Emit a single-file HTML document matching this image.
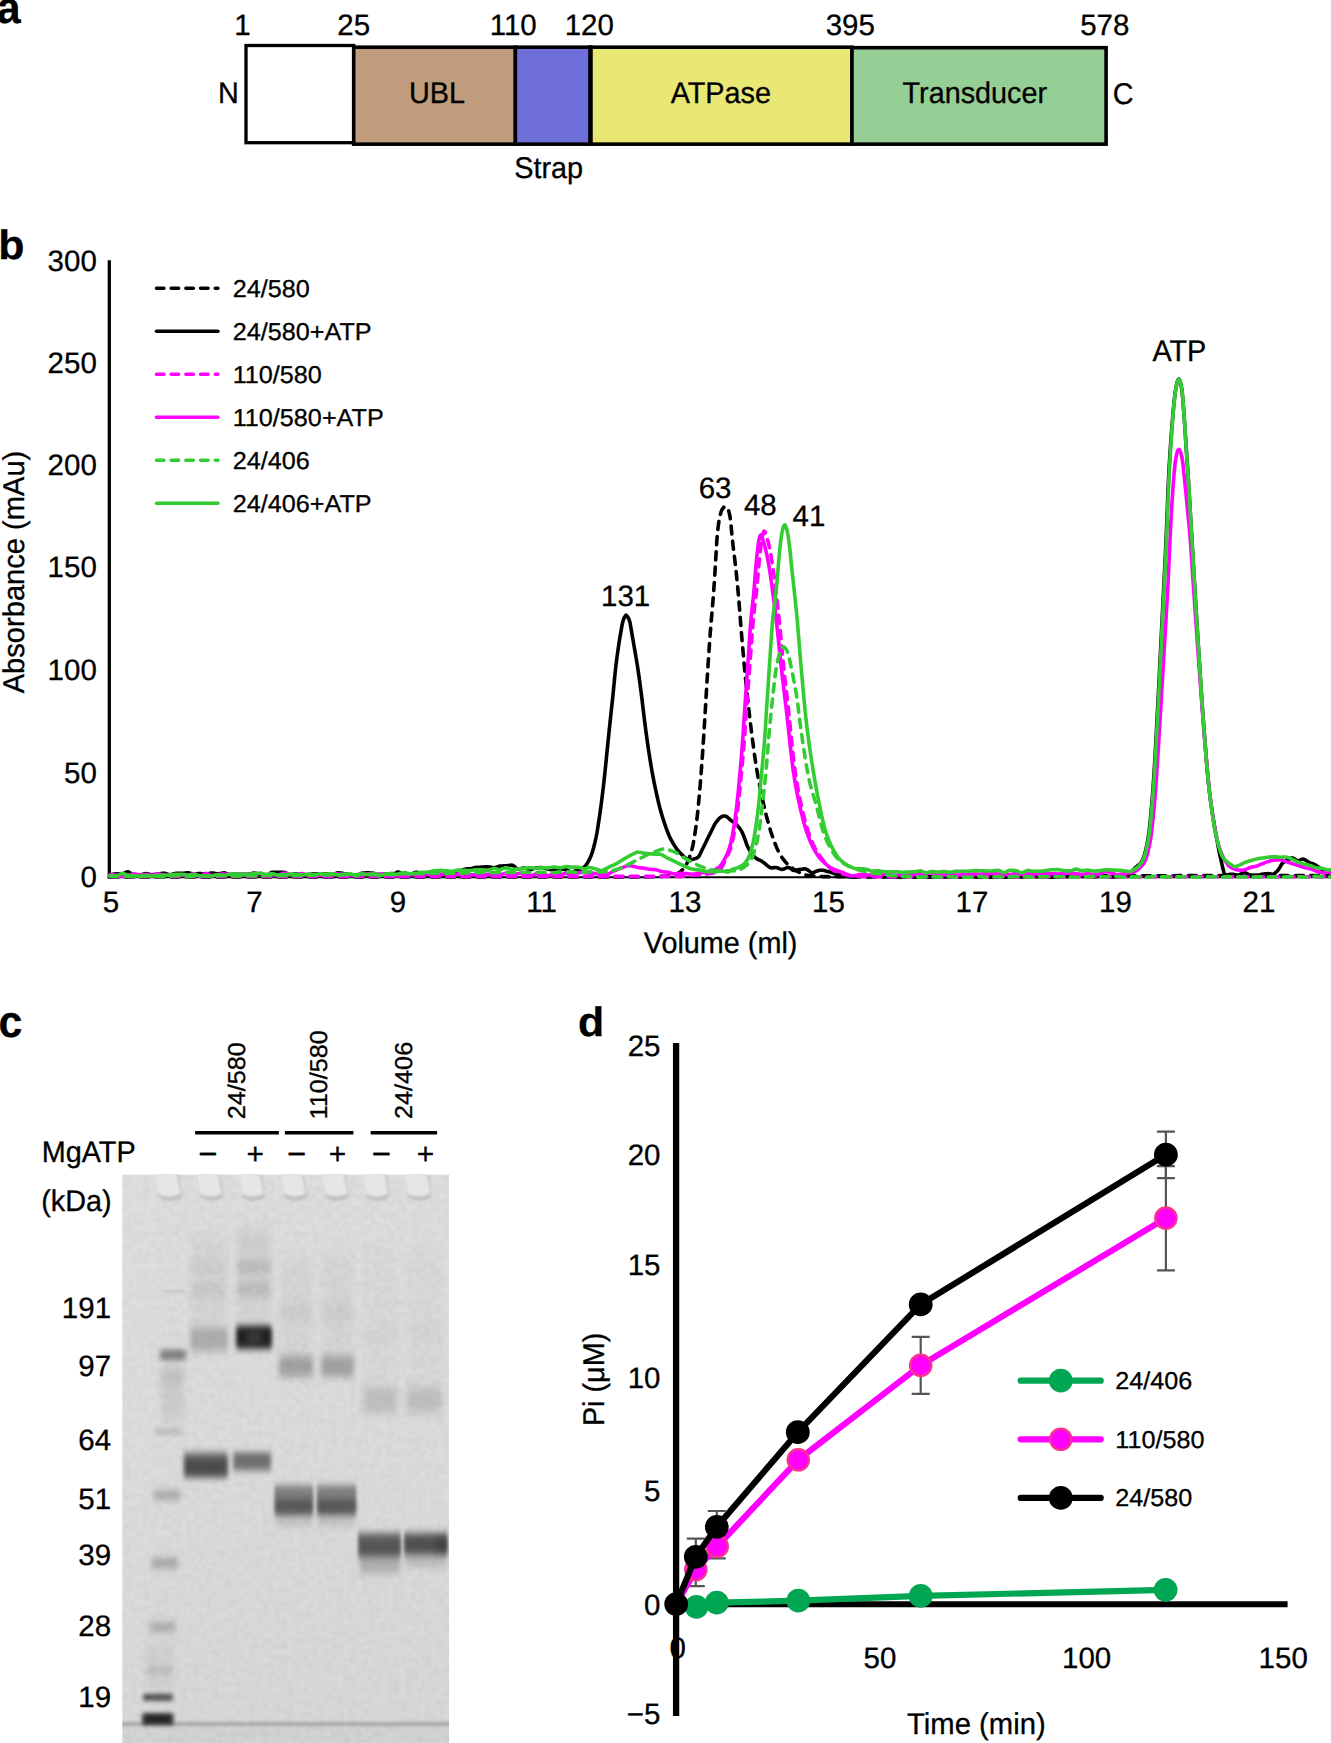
<!DOCTYPE html>
<html lang="en"><head><meta charset="utf-8"><title>Figure</title>
<style>html,body{margin:0;padding:0;background:#fff}svg{display:block}text{font-family:"Liberation Sans",Arial,Helvetica,sans-serif;stroke:#000;stroke-width:.3px;text-rendering:geometricPrecision}</style>
</head><body>
<svg width="1331" height="1743" viewBox="0 0 1331 1743" font-family='"Liberation Sans", Arial, Helvetica, sans-serif' fill="#000">
<rect width="1331" height="1743" fill="#fff"/>
<g id="panel-a">
<text transform="translate(-3.3 23.1) scale(1 1.04)" font-size="42.9" text-anchor="start" font-weight="bold">a</text>
<rect x="246" y="45.5" width="107.7" height="97.2" fill="#fff" stroke="#000" stroke-width="3.3"/>
<rect x="353.7" y="47.2" width="161.7" height="96.95" fill="#c09c7c" stroke="#000" stroke-width="3.6"/>
<rect x="515.4" y="47.2" width="75.0" height="96.95" fill="#6f6fd9" stroke="#000" stroke-width="3.6"/>
<rect x="590.4" y="47.2" width="261.6" height="96.95" fill="#e9e874" stroke="#000" stroke-width="3.6"/>
<rect x="852.0" y="47.7" width="254.1" height="96.45" fill="#95cf95" stroke="#000" stroke-width="3.6"/>
<line x1="590.6" y1="45.4" x2="590.6" y2="145.9" stroke="#000" stroke-width="4.2"/>
<text transform="translate(242.5 35.2) scale(1 1.002)" font-size="29.5" text-anchor="middle">1</text>
<text transform="translate(353.7 35.2) scale(1 1.002)" font-size="29.5" text-anchor="middle">25</text>
<text transform="translate(513.2 35.2) scale(1 1.002)" font-size="29.5" text-anchor="middle">110</text>
<text transform="translate(589.3 35.2) scale(1 1.002)" font-size="29.5" text-anchor="middle">120</text>
<text transform="translate(850.3 35.2) scale(1 1.002)" font-size="29.5" text-anchor="middle">395</text>
<text transform="translate(1104.8 35.2) scale(1 1.002)" font-size="29.5" text-anchor="middle">578</text>
<text transform="translate(218 103.1) scale(1 1.04)" font-size="28.8" text-anchor="start">N</text>
<text transform="translate(1112.8 104.0) scale(1 1.04)" font-size="28.8" text-anchor="start">C</text>
<text transform="translate(437 103.1) scale(1 1.04)" font-size="28.8" text-anchor="middle">UBL</text>
<text transform="translate(720.8 103.1) scale(1 1.04)" font-size="28.8" text-anchor="middle">ATPase</text>
<text transform="translate(974.8 103.1) scale(1 1.04)" font-size="28.8" text-anchor="middle">Transducer</text>
<text transform="translate(548.7 178.0) scale(1 1.04)" font-size="28.8" text-anchor="middle">Strap</text>
</g>
<g id="panel-b">
<text transform="translate(-1.8 258.85) scale(1 0.96)" font-size="42.9" text-anchor="start" font-weight="bold">b</text>
<line x1="109.3" y1="260.3" x2="109.3" y2="878.4" stroke="#000" stroke-width="3.3"/>
<line x1="107.7" y1="877.2" x2="1331" y2="877.2" stroke="#000" stroke-width="2"/>
<g fill="none" stroke-linecap="round" stroke-linejoin="round">
<path d="M110.0,876.9 111.0,876.9 112.0,876.9 113.0,876.9 114.0,876.9 115.0,876.9 116.0,876.9 117.0,876.9 118.0,876.9 119.0,876.9 120.0,876.9 121.0,876.9 122.0,876.9 123.0,876.9 124.0,876.9 125.0,876.9 126.0,876.9 127.0,876.9 128.0,876.9 129.0,876.9 130.0,876.9 131.0,876.9 132.0,876.9 133.0,876.9 134.0,876.9 135.0,876.9 136.0,876.9 137.0,876.9 138.0,876.9 139.0,876.9 140.0,876.9 141.0,876.9 142.0,876.9 143.0,876.9 144.0,876.9 145.0,876.9 146.0,876.9 147.0,876.9 148.0,876.9 149.0,876.9 150.0,876.9 151.0,876.9 152.0,876.9 153.0,876.9 154.0,876.9 155.0,876.9 156.0,876.9 157.0,876.9 158.0,876.9 159.0,876.9 160.0,876.9 161.0,876.9 162.0,876.9 163.0,876.9 164.0,876.9 165.0,876.9 166.0,876.9 167.0,876.9 168.0,876.9 169.0,876.9 170.0,876.9 171.0,876.9 172.0,876.9 173.0,876.9 174.0,876.9 175.0,876.9 176.0,876.9 177.0,876.9 178.0,876.9 179.0,876.9 180.0,876.9 181.0,876.9 182.0,876.9 183.0,876.9 184.0,876.9 185.0,876.9 186.0,876.9 187.0,876.9 188.0,876.9 189.0,876.9 190.0,876.9 191.0,876.9 192.0,876.9 193.0,876.9 194.0,876.9 195.0,876.9 196.0,876.9 197.0,876.9 198.0,876.9 199.0,876.9 200.0,876.9 201.0,876.9 202.0,876.9 203.0,876.9 204.0,876.9 205.0,876.9 206.0,876.9 207.0,876.9 208.0,876.9 209.0,876.9 210.0,876.9 211.0,876.9 212.0,876.9 213.0,876.9 214.0,876.9 215.0,876.9 216.0,876.9 217.0,876.9 218.0,876.9 219.0,876.9 220.0,876.9 221.0,876.9 222.0,876.9 223.0,876.9 224.0,876.9 225.0,876.9 226.0,876.9 227.0,876.9 228.0,876.9 229.0,876.9 230.0,876.9 231.0,876.9 232.0,876.9 233.0,876.9 234.0,876.9 235.0,876.9 236.0,876.9 237.0,876.9 238.0,876.9 239.0,876.9 240.0,876.9 241.0,876.9 242.0,876.9 243.0,876.9 244.0,876.9 245.0,876.9 246.0,876.9 247.0,876.9 248.0,876.9 249.0,876.9 250.0,876.9 251.0,876.9 252.0,876.9 253.0,876.9 254.0,876.9 255.0,876.9 256.0,876.9 257.0,876.9 258.0,876.9 259.0,876.9 260.0,876.9 261.0,876.9 262.0,876.9 263.0,876.9 264.0,876.9 265.0,876.9 266.0,876.9 267.0,876.9 268.0,876.9 269.0,876.9 270.0,876.9 271.0,876.9 272.0,876.9 273.0,876.9 274.0,876.9 275.0,876.9 276.0,876.9 277.0,876.9 278.0,876.9 279.0,876.9 280.0,876.9 281.0,876.9 282.0,876.9 283.0,876.9 284.0,876.9 285.0,876.9 286.0,876.9 287.0,876.9 288.0,876.9 289.0,876.9 290.0,876.9 291.0,876.9 292.0,876.9 293.0,876.9 294.0,876.9 295.0,876.9 296.0,876.9 297.0,876.9 298.0,876.9 299.0,876.9 300.0,876.9 301.0,876.9 302.0,876.9 303.0,876.9 304.0,876.9 305.0,876.9 306.0,876.9 307.0,876.9 308.0,876.9 309.0,876.9 310.0,876.9 311.0,876.9 312.0,876.9 313.0,876.9 314.0,876.9 315.0,876.9 316.0,876.9 317.0,876.9 318.0,876.9 319.0,876.9 320.0,876.9 321.0,876.9 322.0,876.9 323.0,876.9 324.0,876.9 325.0,876.9 326.0,876.9 327.0,876.9 328.0,876.9 329.0,876.9 330.0,876.9 331.0,876.9 332.0,876.9 333.0,876.9 334.0,876.9 335.0,876.9 336.0,876.9 337.0,876.9 338.0,876.9 339.0,876.9 340.0,876.9 341.0,876.9 342.0,876.9 343.0,876.9 344.0,876.9 345.0,876.9 346.0,876.9 347.0,876.9 348.0,876.9 349.0,876.9 350.0,876.9 351.0,876.9 352.0,876.9 353.0,876.9 354.0,876.9 355.0,876.9 356.0,876.9 357.0,876.9 358.0,876.9 359.0,876.9 360.0,876.9 361.0,876.9 362.0,876.9 363.0,876.9 364.0,876.9 365.0,876.9 366.0,876.9 367.0,876.9 368.0,876.9 369.0,876.9 370.0,876.9 371.0,876.9 372.0,876.9 373.0,876.9 374.0,876.9 375.0,876.9 376.0,876.9 377.0,876.9 378.0,876.9 379.0,876.9 380.0,876.9 381.0,876.9 382.0,876.9 383.0,876.9 384.0,876.9 385.0,876.9 386.0,876.9 387.0,876.9 388.0,876.9 389.0,876.9 390.0,876.9 391.0,876.9 392.0,876.9 393.0,876.9 394.0,876.9 395.0,876.9 396.0,876.9 397.0,876.9 398.0,876.9 399.0,876.9 400.0,876.9 401.0,876.9 402.0,876.9 403.0,876.9 404.0,876.9 405.0,876.9 406.0,876.9 407.0,876.9 408.0,876.9 409.0,876.9 410.0,876.9 411.0,876.9 412.0,876.9 413.0,876.9 414.0,876.9 415.0,876.9 416.0,876.9 417.0,876.9 418.0,876.9 419.0,876.9 420.0,876.9 421.0,876.9 422.0,876.9 423.0,876.9 424.0,876.9 425.0,876.9 426.0,876.9 427.0,876.9 428.0,876.9 429.0,876.9 430.0,876.9 431.0,876.9 432.0,876.9 433.0,876.9 434.0,876.9 435.0,876.9 436.0,876.9 437.0,876.9 438.0,876.9 439.0,876.9 440.0,876.9 441.0,876.9 442.0,876.9 443.0,876.9 444.0,876.9 445.0,876.9 446.0,876.9 447.0,876.9 448.0,876.9 449.0,876.9 450.0,876.9 451.0,876.9 452.0,876.9 453.0,876.9 454.0,876.9 455.0,876.9 456.0,876.9 457.0,876.9 458.0,876.9 459.0,876.9 460.0,876.9 461.0,876.9 462.0,876.9 463.0,876.9 464.0,876.9 465.0,876.9 466.0,876.9 467.0,876.9 468.0,876.9 469.0,876.9 470.0,876.9 471.0,876.9 472.0,876.9 473.0,876.9 474.0,876.9 475.0,876.9 476.0,876.9 477.0,876.9 478.0,876.9 479.0,876.9 480.0,876.9 481.0,876.9 482.0,876.9 483.0,876.9 484.0,876.9 485.0,876.9 486.0,876.9 487.0,876.9 488.0,876.9 489.0,876.9 490.0,876.9 491.0,876.9 492.0,876.9 493.0,876.9 494.0,876.9 495.0,876.9 496.0,876.9 497.0,876.9 498.0,876.9 499.0,876.9 500.0,876.9 501.0,876.9 502.0,876.9 503.0,876.9 504.0,876.9 505.0,876.9 506.0,876.9 507.0,876.9 508.0,876.9 509.0,876.9 510.0,876.9 511.0,876.9 512.0,876.9 513.0,876.9 514.0,876.9 515.0,876.9 516.0,876.9 517.0,876.9 518.0,876.9 519.0,876.9 520.0,876.9 521.0,876.9 522.0,876.9 523.0,876.9 524.0,876.9 525.0,876.9 526.0,876.9 527.0,876.9 528.0,876.9 529.0,876.9 530.0,876.9 531.0,876.9 532.0,876.9 533.0,876.9 534.0,876.9 535.0,876.9 536.0,876.9 537.0,876.9 538.0,876.9 539.0,876.9 540.0,876.9 541.0,876.9 542.0,876.9 543.0,876.9 544.0,876.9 545.0,876.9 546.0,876.9 547.0,876.9 548.0,876.9 549.0,876.9 550.0,876.9 551.0,876.9 552.0,876.9 553.0,876.9 554.0,876.9 555.0,876.9 556.0,876.9 557.0,876.9 558.0,876.9 559.0,876.9 560.0,876.9 561.0,876.9 562.0,876.9 563.0,876.9 564.0,876.9 565.0,876.9 566.0,876.9 567.0,876.9 568.0,876.9 569.0,876.9 570.0,876.9 571.0,876.9 572.0,876.9 573.0,876.9 574.0,876.9 575.0,876.9 576.0,876.9 577.0,876.9 578.0,876.9 579.0,876.9 580.0,876.9 581.0,876.9 582.0,876.9 583.0,876.9 584.0,876.9 585.0,876.9 586.0,876.9 587.0,876.9 588.0,876.9 589.0,876.9 590.0,876.9 591.0,876.9 592.0,876.9 593.0,876.9 594.0,876.9 595.0,876.9 596.0,876.9 597.0,876.9 598.0,876.9 599.0,876.9 600.0,876.9 601.0,876.9 602.0,876.9 603.0,876.9 604.0,876.9 605.0,876.9 606.0,876.9 607.0,876.9 608.0,876.9 609.0,876.9 610.0,876.9 611.0,876.9 612.0,876.9 613.0,876.9 614.0,876.9 615.0,876.9 616.0,876.9 617.0,876.9 618.0,876.9 619.0,876.9 620.0,876.9 621.0,876.9 622.0,876.9 623.0,876.9 624.0,876.9 625.0,876.9 626.0,876.9 627.0,876.9 628.0,876.9 629.0,876.9 630.0,876.9 631.0,876.9 632.0,876.9 633.0,876.9 634.0,876.9 635.0,876.9 636.0,876.9 637.0,876.9 638.0,876.9 639.0,876.9 640.0,876.9 641.0,876.9 642.0,876.9 643.0,876.9 644.0,876.9 645.0,876.9 646.0,876.9 647.0,876.8 648.0,876.8 649.0,876.8 650.0,876.8 651.0,876.8 652.0,876.7 653.0,876.7 654.0,876.7 655.0,876.6 656.0,876.6 657.0,876.6 658.0,876.5 659.0,876.5 660.0,876.4 661.0,876.4 662.0,876.4 663.0,876.3 664.0,876.2 665.0,876.2 666.0,876.1 667.0,876.1 668.0,876.0 669.0,875.9 670.0,875.8 671.0,875.6 672.0,875.3 673.0,875.1 674.0,874.7 675.0,874.4 676.0,874.0 677.0,873.5 678.0,873.0 679.0,872.5 680.0,872.0 681.0,871.3 682.0,870.4 683.0,869.3 684.0,868.0 685.0,866.6 686.0,865.0 687.0,863.3 688.0,861.2 689.0,858.7 690.0,855.8 691.0,852.6 692.0,849.0 693.0,844.8 694.0,839.6 695.0,833.3 696.0,826.3 697.0,818.6 698.0,809.2 699.0,798.6 700.0,787.3 701.0,774.9 702.0,761.4 703.0,747.1 704.0,732.0 705.0,715.3 706.0,698.1 707.0,681.7 708.0,665.9 709.0,650.6 710.0,636.3 711.0,623.6 712.0,612.1 713.0,600.2 714.0,586.7 715.0,571.7 716.0,554.5 717.0,538.2 718.0,528.0 719.0,520.6 720.0,515.8 721.0,512.1 722.0,509.6 723.0,508.2 724.0,507.1 725.0,506.6 726.0,506.9 727.0,507.8 728.0,509.1 729.0,511.8 730.0,516.6 731.0,524.4 732.0,536.0 733.0,545.1 734.0,553.3 735.0,561.5 736.0,570.5 737.0,580.2 738.0,590.6 739.0,602.0 740.0,614.7 741.0,627.6 742.0,639.6 743.0,651.2 744.0,662.4 745.0,673.3 746.0,683.6 747.0,693.2 748.0,702.4 749.0,711.2 750.0,719.7 751.0,727.9 752.0,735.9 753.0,743.6 754.0,751.1 755.0,758.2 756.0,764.8 757.0,770.9 758.0,776.6 759.0,781.9 760.0,787.1 761.0,792.1 762.0,796.9 763.0,801.6 764.0,806.1 765.0,810.4 766.0,814.4 767.0,818.2 768.0,821.9 769.0,825.5 770.0,828.9 771.0,832.2 772.0,835.2 773.0,838.1 774.0,840.8 775.0,843.4 776.0,845.9 777.0,848.3 778.0,850.5 779.0,852.5 780.0,854.4 781.0,856.0 782.0,857.5 783.0,858.9 784.0,860.2 785.0,861.4 786.0,862.6 787.0,863.6 788.0,864.6 789.0,865.5 790.0,866.4 791.0,867.2 792.0,867.9 793.0,868.7 794.0,869.3 795.0,870.0 796.0,870.6 797.0,871.2 798.0,871.7 799.0,872.2 800.0,872.7 801.0,873.1 802.0,873.6 803.0,874.0 804.0,874.4 805.0,874.7 806.0,875.0 807.0,875.2 808.0,875.4 809.0,875.6 810.0,875.7 811.0,875.8 812.0,875.9 813.0,876.1 814.0,876.1 815.0,876.2 816.0,876.3 817.0,876.4 818.0,876.4 819.0,876.5 820.0,876.5 821.0,876.5 822.0,876.5 823.0,876.6 824.0,876.6 825.0,876.6 826.0,876.6 827.0,876.6 828.0,876.6 829.0,876.7 830.0,876.7 831.0,876.7 832.0,876.7 833.0,876.7 834.0,876.7 835.0,876.7 836.0,876.8 837.0,876.8 838.0,876.8 839.0,876.8 840.0,876.8 841.0,876.8 842.0,876.8 843.0,876.8 844.0,876.8 845.0,876.8 846.0,876.9 847.0,876.9 848.0,876.9 849.0,876.9 850.0,876.9 851.0,876.9 852.0,876.9 853.0,876.9 854.0,876.9 855.0,876.9 856.0,876.9 857.0,876.9 858.0,876.9 859.0,876.9 860.0,876.9 861.0,876.9 862.0,876.9 863.0,876.9 864.0,876.9 865.0,876.9 866.0,876.9 867.0,876.9 868.0,876.9 869.0,876.9 870.0,876.9 871.0,876.9 872.0,876.9 873.0,876.9 874.0,876.9 875.0,876.9 876.0,876.9 877.0,876.9 878.0,876.9 879.0,876.9 880.0,876.9 881.0,876.9 882.0,876.9 883.0,876.9 884.0,876.9 885.0,876.9 886.0,876.9 887.0,876.9 888.0,876.9 889.0,876.9 890.0,876.9 891.0,876.9 892.0,876.9 893.0,876.9 894.0,876.9 895.0,876.9 896.0,876.9 897.0,876.9 898.0,876.9 899.0,876.9 900.0,876.9 901.0,876.9 902.0,876.9 903.0,876.9 904.0,876.9 905.0,876.9 906.0,876.9 907.0,876.9 908.0,876.9 909.0,876.9 910.0,876.9 911.0,876.9 912.0,876.9 913.0,876.9 914.0,876.9 915.0,876.9 916.0,876.9 917.0,876.9 918.0,876.9 919.0,876.9 920.0,876.9 921.0,876.9 922.0,876.9 923.0,876.9 924.0,876.9 925.0,876.9 926.0,876.9 927.0,876.9 928.0,876.9 929.0,876.9 930.0,876.9 931.0,876.9 932.0,876.9 933.0,876.9 934.0,876.9 935.0,876.9 936.0,876.9 937.0,876.9 938.0,876.9 939.0,876.9 940.0,876.9 941.0,876.9 942.0,876.9 943.0,876.9 944.0,876.9 945.0,876.9 946.0,876.9 947.0,876.9 948.0,876.9 949.0,876.9 950.0,876.9 951.0,876.9 952.0,876.9 953.0,876.9 954.0,876.9 955.0,876.9 956.0,876.9 957.0,876.9 958.0,876.9 959.0,876.9 960.0,876.9 961.0,876.9 962.0,876.9 963.0,876.9 964.0,876.9 965.0,876.9 966.0,876.9 967.0,876.9 968.0,876.9 969.0,876.9 970.0,876.9 971.0,876.9 972.0,876.9 973.0,876.9 974.0,876.9 975.0,876.9 976.0,876.9 977.0,876.9 978.0,876.9 979.0,876.9 980.0,876.9 981.0,876.9 982.0,876.9 983.0,876.9 984.0,876.9 985.0,876.9 986.0,876.9 987.0,876.9 988.0,876.9 989.0,876.9 990.0,876.9 991.0,876.9 992.0,876.9 993.0,876.9 994.0,876.9 995.0,876.9 996.0,876.9 997.0,876.9 998.0,876.9 999.0,876.9 1000.0,876.9 1001.0,876.9 1002.0,876.9 1003.0,876.9 1004.0,876.9 1005.0,876.9 1006.0,876.9 1007.0,876.9 1008.0,876.9 1009.0,876.9 1010.0,876.9 1011.0,876.9 1012.0,876.9 1013.0,876.9 1014.0,876.9 1015.0,876.9 1016.0,876.9 1017.0,876.9 1018.0,876.9 1019.0,876.9 1020.0,876.9 1021.0,876.9 1022.0,876.9 1023.0,876.9 1024.0,876.8 1025.0,876.8 1026.0,876.8 1027.0,876.8 1028.0,876.8 1029.0,876.8 1030.0,876.8 1031.0,876.8 1032.0,876.8 1033.0,876.8 1034.0,876.8 1035.0,876.8 1036.0,876.8 1037.0,876.8 1038.0,876.8 1039.0,876.8 1040.0,876.8 1041.0,876.8 1042.0,876.8 1043.0,876.7 1044.0,876.7 1045.0,876.7 1046.0,876.7 1047.0,876.7 1048.0,876.7 1049.0,876.7 1050.0,876.7 1051.0,876.7 1052.0,876.7 1053.0,876.7 1054.0,876.7 1055.0,876.7 1056.0,876.7 1057.0,876.6 1058.0,876.6 1059.0,876.6 1060.0,876.6 1061.0,876.6 1062.0,876.6 1063.0,876.6 1064.0,876.6 1065.0,876.6 1066.0,876.6 1067.0,876.6 1068.0,876.6 1069.0,876.5 1070.0,876.5 1071.0,876.5 1072.0,876.5 1073.0,876.5 1074.0,876.5 1075.0,876.5 1076.0,876.5 1077.0,876.5 1078.0,876.5 1079.0,876.5 1080.0,876.4 1081.0,876.4 1082.0,876.4 1083.0,876.4 1084.0,876.4 1085.0,876.4 1086.0,876.4 1087.0,876.4 1088.0,876.4 1089.0,876.4 1090.0,876.3 1091.0,876.3 1092.0,876.3 1093.0,876.3 1094.0,876.3 1095.0,876.3 1096.0,876.3 1097.0,876.3 1098.0,876.3 1099.0,876.3 1100.0,876.2 1101.0,876.2 1102.0,876.2 1103.0,876.2 1104.0,876.2 1105.0,876.2 1106.0,876.2 1107.0,876.2 1108.0,876.2 1109.0,876.2 1110.0,876.2 1111.0,876.1 1112.0,876.1 1113.0,876.1 1114.0,876.1 1115.0,876.1 1116.0,876.1 1117.0,876.1 1118.0,876.1 1119.0,876.1 1120.0,876.1 1121.0,876.0 1122.0,876.0 1123.0,876.0 1124.0,876.0 1125.0,876.0 1126.0,876.0 1127.0,876.0 1128.0,876.0 1129.0,876.0 1130.0,876.0 1131.0,876.0 1132.0,875.9 1133.0,875.9 1134.0,875.9 1135.0,875.9 1136.0,875.9 1137.0,875.9 1138.0,875.9 1139.0,875.9 1140.0,875.9 1141.0,875.9 1142.0,875.9 1143.0,875.9 1144.0,875.8 1145.0,875.8 1146.0,875.8 1147.0,875.8 1148.0,875.8 1149.0,875.8 1150.0,875.8 1151.0,875.8 1152.0,875.8 1153.0,875.8 1154.0,875.8 1155.0,875.8 1156.0,875.8 1157.0,875.8 1158.0,875.7 1159.0,875.7 1160.0,875.7 1161.0,875.7 1162.0,875.7 1163.0,875.7 1164.0,875.7 1165.0,875.7 1166.0,875.7 1167.0,875.7 1168.0,875.7 1169.0,875.7 1170.0,875.7 1171.0,875.7 1172.0,875.7 1173.0,875.7 1174.0,875.7 1175.0,875.7 1176.0,875.7 1177.0,875.6 1178.0,875.6 1179.0,875.6 1180.0,875.6 1181.0,875.6 1182.0,875.6 1183.0,875.6 1184.0,875.6 1185.0,875.6 1186.0,875.6 1187.0,875.6 1188.0,875.6 1189.0,875.6 1190.0,875.6 1191.0,875.6 1192.0,875.6 1193.0,875.6 1194.0,875.6 1195.0,875.6 1196.0,875.6 1197.0,875.6 1198.0,875.6 1199.0,875.6 1200.0,875.6 1201.0,875.6 1202.0,875.6 1203.0,875.6 1204.0,875.6 1205.0,875.6 1206.0,875.6 1207.0,875.6 1208.0,875.6 1209.0,875.6 1210.0,875.6 1211.0,875.6 1212.0,875.6 1213.0,875.6 1214.0,875.6 1215.0,875.6 1216.0,875.6 1217.0,875.6 1218.0,875.6 1219.0,875.6 1220.0,875.6 1221.0,875.6 1222.0,875.6 1223.0,875.6 1224.0,875.6 1225.0,875.6 1226.0,875.6 1227.0,875.6 1228.0,875.6 1229.0,875.6 1230.0,875.6 1231.0,875.6 1232.0,875.6 1233.0,875.6 1234.0,875.6 1235.0,875.6 1236.0,875.6 1237.0,875.6 1238.0,875.6 1239.0,875.6 1240.0,875.6 1241.0,875.6 1242.0,875.6 1243.0,875.6 1244.0,875.6 1245.0,875.6 1246.0,875.6 1247.0,875.6 1248.0,875.6 1249.0,875.6 1250.0,875.6 1251.0,875.6 1252.0,875.6 1253.0,875.6 1254.0,875.6 1255.0,875.6 1256.0,875.6 1257.0,875.6 1258.0,875.6 1259.0,875.6 1260.0,875.6 1261.0,875.6 1262.0,875.6 1263.0,875.6 1264.0,875.6 1265.0,875.6 1266.0,875.6 1267.0,875.6 1268.0,875.6 1269.0,875.6 1270.0,875.6 1271.0,875.6 1272.0,875.6 1273.0,875.6 1274.0,875.6 1275.0,875.6 1276.0,875.6 1277.0,875.6 1278.0,875.6 1279.0,875.6 1280.0,875.6 1281.0,875.6 1282.0,875.6 1283.0,875.6 1284.0,875.6 1285.0,875.6 1286.0,875.6 1287.0,875.6 1288.0,875.6 1289.0,875.6 1290.0,875.6 1291.0,875.6 1292.0,875.6 1293.0,875.6 1294.0,875.6 1295.0,875.6 1296.0,875.6 1297.0,875.6 1298.0,875.6 1299.0,875.6 1300.0,875.6 1301.0,875.6 1302.0,875.6 1303.0,875.6 1304.0,875.6 1305.0,875.6 1306.0,875.6 1307.0,875.6 1308.0,875.6 1309.0,875.6 1310.0,875.6 1311.0,875.6 1312.0,875.6 1313.0,875.6 1314.0,875.6 1315.0,875.6 1316.0,875.6 1317.0,875.6 1318.0,875.6 1319.0,875.6 1320.0,875.6 1321.0,875.6 1322.0,875.6 1323.0,875.6 1324.0,875.6 1325.0,875.6 1326.0,875.6 1327.0,875.6 1328.0,875.6 1329.0,875.6 1330.0,875.6 1331.0,875.6 1332.0,875.6" stroke="#000" stroke-dasharray="8.1 7.2" stroke-width="3.6"/>
<path d="M110.0,874.8 111.0,874.6 112.0,874.4 113.0,874.2 114.0,874.1 115.0,874.0 116.0,873.9 117.0,873.9 118.0,873.9 119.0,873.9 120.0,873.9 121.0,873.9 122.0,873.9 123.0,873.8 124.0,873.4 125.0,872.9 126.0,872.3 127.0,872.0 128.0,871.8 129.0,872.1 130.0,872.8 131.0,873.8 132.0,874.8 133.0,875.6 134.0,875.9 135.0,875.9 136.0,875.8 137.0,875.6 138.0,875.5 139.0,875.3 140.0,875.2 141.0,874.9 142.0,874.6 143.0,874.3 144.0,874.0 145.0,873.7 146.0,873.6 147.0,873.7 148.0,873.9 149.0,874.1 150.0,874.4 151.0,874.6 152.0,874.7 153.0,874.6 154.0,874.6 155.0,874.5 156.0,874.3 157.0,874.2 158.0,874.1 159.0,874.0 160.0,873.8 161.0,873.6 162.0,873.4 163.0,873.3 164.0,873.2 165.0,873.3 166.0,873.6 167.0,874.0 168.0,874.3 169.0,874.6 170.0,874.7 171.0,874.6 172.0,874.4 173.0,874.0 174.0,873.7 175.0,873.5 176.0,873.4 177.0,873.4 178.0,873.4 179.0,873.3 180.0,873.3 181.0,873.3 182.0,873.3 183.0,873.3 184.0,873.2 185.0,873.1 186.0,873.0 187.0,872.9 188.0,872.8 189.0,872.9 190.0,873.1 191.0,873.4 192.0,873.7 193.0,874.0 194.0,874.1 195.0,874.0 196.0,873.9 197.0,873.8 198.0,873.6 199.0,873.5 200.0,873.5 201.0,873.5 202.0,873.7 203.0,873.8 204.0,874.0 205.0,874.1 206.0,874.2 207.0,874.1 208.0,873.9 209.0,873.6 210.0,873.3 211.0,873.1 212.0,873.1 213.0,873.1 214.0,873.3 215.0,873.4 216.0,873.6 217.0,873.8 218.0,873.8 219.0,873.8 220.0,873.6 221.0,873.4 222.0,873.1 223.0,873.0 224.0,872.9 225.0,873.0 226.0,873.4 227.0,873.8 228.0,874.2 229.0,874.6 230.0,874.7 231.0,874.7 232.0,874.6 233.0,874.4 234.0,874.3 235.0,874.1 236.0,874.1 237.0,874.1 238.0,874.2 239.0,874.2 240.0,874.2 241.0,874.3 242.0,874.3 243.0,874.3 244.0,874.4 245.0,874.4 246.0,874.4 247.0,874.4 248.0,874.4 249.0,874.3 250.0,874.0 251.0,873.7 252.0,873.4 253.0,873.1 254.0,873.0 255.0,873.1 256.0,873.3 257.0,873.7 258.0,874.1 259.0,874.5 260.0,874.8 261.0,875.0 262.0,875.3 263.0,875.6 264.0,875.8 265.0,876.0 266.0,876.0 267.0,875.7 268.0,875.1 269.0,874.2 270.0,873.3 271.0,872.6 272.0,872.3 273.0,872.2 274.0,872.2 275.0,872.2 276.0,872.2 277.0,872.2 278.0,872.2 279.0,872.2 280.0,872.2 281.0,872.2 282.0,872.2 283.0,872.3 284.0,872.3 285.0,872.6 286.0,873.0 287.0,873.6 288.0,874.1 289.0,874.5 290.0,874.7 291.0,874.6 292.0,874.5 293.0,874.3 294.0,874.1 295.0,874.0 296.0,873.9 297.0,874.0 298.0,874.2 299.0,874.4 300.0,874.6 301.0,874.8 302.0,874.9 303.0,874.9 304.0,874.8 305.0,874.8 306.0,874.7 307.0,874.6 308.0,874.5 309.0,874.5 310.0,874.3 311.0,874.2 312.0,874.1 313.0,874.1 314.0,874.0 315.0,874.1 316.0,874.1 317.0,874.1 318.0,874.1 319.0,874.1 320.0,874.2 321.0,874.1 322.0,874.0 323.0,873.9 324.0,873.8 325.0,873.8 326.0,873.7 327.0,873.8 328.0,874.0 329.0,874.3 330.0,874.5 331.0,874.7 332.0,874.8 333.0,874.7 334.0,874.3 335.0,873.8 336.0,873.4 337.0,873.0 338.0,872.8 339.0,872.9 340.0,873.0 341.0,873.1 342.0,873.3 343.0,873.4 344.0,873.6 345.0,873.7 346.0,873.8 347.0,873.9 348.0,874.0 349.0,874.1 350.0,874.2 351.0,874.5 352.0,874.8 353.0,875.1 354.0,875.5 355.0,875.7 356.0,875.8 357.0,875.6 358.0,875.2 359.0,874.6 360.0,874.0 361.0,873.5 362.0,873.2 363.0,873.1 364.0,873.1 365.0,873.0 366.0,872.9 367.0,872.9 368.0,872.9 369.0,872.9 370.0,873.0 371.0,873.0 372.0,873.1 373.0,873.3 374.0,873.4 375.0,873.6 376.0,873.9 377.0,874.2 378.0,874.6 379.0,874.8 380.0,874.9 381.0,874.8 382.0,874.6 383.0,874.3 384.0,874.0 385.0,873.7 386.0,873.7 387.0,873.8 388.0,874.0 389.0,874.4 390.0,874.8 391.0,875.1 392.0,875.2 393.0,874.9 394.0,874.3 395.0,873.6 396.0,872.8 397.0,872.2 398.0,871.9 399.0,872.2 400.0,872.7 401.0,873.4 402.0,874.1 403.0,874.7 404.0,874.9 405.0,874.9 406.0,874.9 407.0,874.9 408.0,874.8 409.0,874.8 410.0,874.8 411.0,874.5 412.0,874.1 413.0,873.5 414.0,872.9 415.0,872.4 416.0,872.2 417.0,872.3 418.0,872.5 419.0,872.8 420.0,873.2 421.0,873.5 422.0,873.7 423.0,873.9 424.0,874.2 425.0,874.4 426.0,874.6 427.0,874.7 428.0,874.7 429.0,874.6 430.0,874.4 431.0,874.1 432.0,873.8 433.0,873.6 434.0,873.4 435.0,873.5 436.0,873.5 437.0,873.7 438.0,873.9 439.0,874.0 440.0,874.2 441.0,874.4 442.0,874.6 443.0,874.8 444.0,875.0 445.0,875.1 446.0,875.1 447.0,874.8 448.0,874.4 449.0,873.9 450.0,873.3 451.0,872.8 452.0,872.4 453.0,872.2 454.0,872.0 455.0,871.7 456.0,871.5 457.0,871.3 458.0,871.1 459.0,870.9 460.0,870.6 461.0,870.4 462.0,870.1 463.0,869.8 464.0,869.5 465.0,869.2 466.0,869.0 467.0,868.8 468.0,868.8 469.0,868.8 470.0,868.8 471.0,868.6 472.0,868.4 473.0,868.1 474.0,867.8 475.0,867.6 476.0,867.4 477.0,867.4 478.0,867.3 479.0,867.2 480.0,867.2 481.0,867.1 482.0,867.0 483.0,867.0 484.0,867.0 485.0,866.9 486.0,866.9 487.0,866.9 488.0,866.9 489.0,867.0 490.0,867.1 491.0,867.3 492.0,867.5 493.0,867.6 494.0,867.7 495.0,867.6 496.0,867.3 497.0,867.0 498.0,866.6 499.0,866.3 500.0,866.1 501.0,866.0 502.0,866.0 503.0,865.9 504.0,865.9 505.0,865.9 506.0,865.8 507.0,865.7 508.0,865.6 509.0,865.4 510.0,865.3 511.0,865.2 512.0,865.1 513.0,865.4 514.0,866.1 515.0,867.0 516.0,867.9 517.0,868.6 518.0,868.9 519.0,868.9 520.0,868.7 521.0,868.5 522.0,868.2 523.0,868.0 524.0,868.0 525.0,868.1 526.0,868.4 527.0,868.7 528.0,869.1 529.0,869.4 530.0,869.5 531.0,869.4 532.0,869.2 533.0,868.9 534.0,868.6 535.0,868.3 536.0,868.1 537.0,867.9 538.0,867.8 539.0,867.7 540.0,867.6 541.0,867.5 542.0,867.5 543.0,867.7 544.0,867.9 545.0,868.3 546.0,868.6 547.0,868.9 548.0,869.1 549.0,869.3 550.0,869.5 551.0,869.6 552.0,869.7 553.0,869.8 554.0,869.8 555.0,869.8 556.0,869.6 557.0,869.4 558.0,869.2 559.0,869.1 560.0,869.1 561.0,869.1 562.0,869.2 563.0,869.3 564.0,869.4 565.0,869.5 566.0,869.7 567.0,870.0 568.0,870.5 569.0,871.1 570.0,871.7 571.0,872.2 572.0,872.3 573.0,872.0 574.0,871.7 575.0,871.2 576.0,870.7 577.0,870.3 578.0,870.1 579.0,869.9 580.0,869.6 581.0,869.2 582.0,868.6 583.0,868.0 584.0,867.2 585.0,866.3 586.0,865.1 587.0,863.7 588.0,862.0 589.0,860.1 590.0,858.1 591.0,855.9 592.0,853.1 593.0,849.9 594.0,846.2 595.0,842.2 596.0,837.7 597.0,832.5 598.0,826.4 599.0,819.8 600.0,813.0 601.0,805.8 602.0,798.0 603.0,789.7 604.0,781.1 605.0,771.9 606.0,762.0 607.0,751.8 608.0,742.0 609.0,732.3 610.0,722.8 611.0,713.3 612.0,704.1 613.0,694.8 614.0,684.4 615.0,674.1 616.0,665.1 617.0,657.1 618.0,649.9 619.0,643.1 620.0,636.9 621.0,631.1 622.0,625.4 623.0,621.0 624.0,618.1 625.0,616.5 626.0,615.2 627.0,616.1 628.0,617.4 629.0,619.4 630.0,622.5 631.0,628.2 632.0,634.1 633.0,639.8 634.0,645.7 635.0,651.4 636.0,657.2 637.0,663.2 638.0,669.6 639.0,676.5 640.0,683.8 641.0,691.4 642.0,699.3 643.0,708.0 644.0,716.2 645.0,724.2 646.0,731.9 647.0,739.3 648.0,746.3 649.0,752.9 650.0,759.3 651.0,765.4 652.0,771.3 653.0,776.7 654.0,781.8 655.0,786.7 656.0,791.5 657.0,796.0 658.0,800.4 659.0,804.5 660.0,808.4 661.0,812.0 662.0,815.4 663.0,818.6 664.0,821.8 665.0,824.8 666.0,827.7 667.0,830.4 668.0,833.0 669.0,835.4 670.0,837.6 671.0,839.6 672.0,841.4 673.0,843.2 674.0,844.8 675.0,846.4 676.0,847.9 677.0,849.3 678.0,850.5 679.0,851.7 680.0,852.8 681.0,853.8 682.0,854.8 683.0,855.8 684.0,856.8 685.0,857.7 686.0,858.5 687.0,859.1 688.0,859.5 689.0,859.7 690.0,859.5 691.0,859.5 692.0,859.5 693.0,859.3 694.0,859.1 695.0,858.7 696.0,858.3 697.0,857.8 698.0,857.3 699.0,856.1 700.0,854.3 701.0,852.2 702.0,850.0 703.0,848.0 704.0,846.0 705.0,844.0 706.0,841.9 707.0,839.8 708.0,837.8 709.0,835.7 710.0,833.8 711.0,831.7 712.0,829.7 713.0,827.7 714.0,825.7 715.0,823.9 716.0,822.3 717.0,821.0 718.0,819.8 719.0,818.7 720.0,817.7 721.0,817.1 722.0,816.5 723.0,816.1 724.0,816.0 725.0,816.1 726.0,816.2 727.0,816.8 728.0,817.7 729.0,818.7 730.0,819.6 731.0,820.4 732.0,821.1 733.0,821.8 734.0,822.5 735.0,823.3 736.0,824.3 737.0,825.2 738.0,826.3 739.0,827.5 740.0,828.8 741.0,830.2 742.0,832.0 743.0,834.2 744.0,836.6 745.0,839.4 746.0,842.4 747.0,845.2 748.0,847.3 749.0,849.2 750.0,850.9 751.0,852.6 752.0,854.0 753.0,855.3 754.0,856.4 755.0,857.3 756.0,858.2 757.0,858.9 758.0,859.5 759.0,859.9 760.0,860.2 761.0,860.8 762.0,861.4 763.0,862.1 764.0,862.9 765.0,863.7 766.0,864.5 767.0,865.4 768.0,866.1 769.0,866.9 770.0,867.5 771.0,867.9 772.0,867.9 773.0,867.8 774.0,867.6 775.0,867.5 776.0,867.5 777.0,867.7 778.0,868.1 779.0,868.5 780.0,868.9 781.0,869.2 782.0,869.4 783.0,869.3 784.0,869.0 785.0,868.5 786.0,868.0 787.0,867.6 788.0,867.4 789.0,867.7 790.0,868.2 791.0,868.9 792.0,869.6 793.0,870.2 794.0,870.4 795.0,870.4 796.0,870.2 797.0,870.0 798.0,869.8 799.0,869.6 800.0,869.4 801.0,869.3 802.0,869.2 803.0,869.0 804.0,868.9 805.0,868.9 806.0,869.0 807.0,869.5 808.0,870.2 809.0,870.9 810.0,871.6 811.0,872.4 812.0,873.1 813.0,872.9 814.0,872.3 815.0,871.8 816.0,871.4 817.0,871.0 818.0,870.7 819.0,870.5 820.0,870.3 821.0,870.2 822.0,870.2 823.0,870.3 824.0,870.5 825.0,870.8 826.0,871.1 827.0,871.4 828.0,871.6 829.0,871.8 830.0,872.1 831.0,872.4 832.0,872.8 833.0,873.1 834.0,873.5 835.0,873.9 836.0,874.1 837.0,874.3 838.0,874.5 839.0,874.7 840.0,874.8 841.0,874.9 842.0,875.1 843.0,875.3 844.0,875.6 845.0,875.9 846.0,876.2 847.0,876.5 848.0,876.7 849.0,876.8 850.0,876.9 851.0,877.0 852.0,877.0 853.0,877.0 854.0,877.0 855.0,876.9 856.0,876.7 857.0,876.3 858.0,876.0 859.0,875.7 860.0,875.6 861.0,875.6 862.0,875.6 863.0,875.7 864.0,875.7 865.0,875.7 866.0,875.8 867.0,875.8 868.0,875.8 869.0,875.8 870.0,875.8 871.0,875.8 872.0,875.8 873.0,875.8 874.0,875.6 875.0,875.4 876.0,875.2 877.0,875.1 878.0,875.0 879.0,875.1 880.0,875.2 881.0,875.3 882.0,875.5 883.0,875.7 884.0,875.8 885.0,875.9 886.0,876.0 887.0,876.0 888.0,876.1 889.0,876.2 890.0,876.3 891.0,876.4 892.0,876.5 893.0,876.7 894.0,876.8 895.0,877.0 896.0,877.1 897.0,877.2 898.0,877.3 899.0,877.3 900.0,877.3 901.0,877.3 902.0,877.3 903.0,877.3 904.0,877.2 905.0,876.7 906.0,876.1 907.0,875.7 908.0,875.6 909.0,875.7 910.0,875.9 911.0,876.3 912.0,876.6 913.0,876.9 914.0,877.0 915.0,876.9 916.0,876.7 917.0,876.5 918.0,876.2 919.0,876.0 920.0,876.0 921.0,876.1 922.0,876.6 923.0,877.2 924.0,877.3 925.0,877.3 926.0,877.3 927.0,877.3 928.0,877.3 929.0,877.3 930.0,876.9 931.0,876.5 932.0,876.4 933.0,876.4 934.0,876.5 935.0,876.6 936.0,876.8 937.0,876.9 938.0,876.9 939.0,876.8 940.0,876.5 941.0,876.2 942.0,875.8 943.0,875.6 944.0,875.5 945.0,875.5 946.0,875.5 947.0,875.5 948.0,875.5 949.0,875.6 950.0,875.6 951.0,875.7 952.0,875.9 953.0,876.1 954.0,876.4 955.0,876.5 956.0,876.6 957.0,876.6 958.0,876.4 959.0,876.3 960.0,876.2 961.0,876.1 962.0,876.0 963.0,876.1 964.0,876.2 965.0,876.4 966.0,876.6 967.0,876.7 968.0,876.8 969.0,876.6 970.0,876.3 971.0,875.8 972.0,875.3 973.0,875.0 974.0,874.8 975.0,875.0 976.0,875.4 977.0,876.0 978.0,876.5 979.0,876.9 980.0,877.1 981.0,876.9 982.0,876.7 983.0,876.3 984.0,875.9 985.0,875.6 986.0,875.5 987.0,875.7 988.0,876.2 989.0,876.8 990.0,877.3 991.0,877.3 992.0,877.3 993.0,877.3 994.0,877.3 995.0,877.1 996.0,876.6 997.0,876.3 998.0,876.1 999.0,876.2 1000.0,876.5 1001.0,876.8 1002.0,877.1 1003.0,877.3 1004.0,877.3 1005.0,877.3 1006.0,876.9 1007.0,876.3 1008.0,875.7 1009.0,875.2 1010.0,875.0 1011.0,875.1 1012.0,875.5 1013.0,875.9 1014.0,876.4 1015.0,876.7 1016.0,876.8 1017.0,876.7 1018.0,876.5 1019.0,876.2 1020.0,875.8 1021.0,875.6 1022.0,875.5 1023.0,875.5 1024.0,875.6 1025.0,875.6 1026.0,875.7 1027.0,875.8 1028.0,875.9 1029.0,876.0 1030.0,876.1 1031.0,876.2 1032.0,876.3 1033.0,876.4 1034.0,876.4 1035.0,876.4 1036.0,876.3 1037.0,876.2 1038.0,876.1 1039.0,876.1 1040.0,876.1 1041.0,876.1 1042.0,876.2 1043.0,876.3 1044.0,876.4 1045.0,876.5 1046.0,876.6 1047.0,876.7 1048.0,876.8 1049.0,876.9 1050.0,877.0 1051.0,877.1 1052.0,877.1 1053.0,877.1 1054.0,877.1 1055.0,877.1 1056.0,877.0 1057.0,877.0 1058.0,877.0 1059.0,876.9 1060.0,876.8 1061.0,876.7 1062.0,876.6 1063.0,876.4 1064.0,876.2 1065.0,876.0 1066.0,875.8 1067.0,875.5 1068.0,875.2 1069.0,875.0 1070.0,874.9 1071.0,875.0 1072.0,875.0 1073.0,875.1 1074.0,875.3 1075.0,875.4 1076.0,875.5 1077.0,875.6 1078.0,875.7 1079.0,875.9 1080.0,876.0 1081.0,876.0 1082.0,876.1 1083.0,875.9 1084.0,875.6 1085.0,875.1 1086.0,874.6 1087.0,874.3 1088.0,874.1 1089.0,874.3 1090.0,874.9 1091.0,875.6 1092.0,876.2 1093.0,876.8 1094.0,877.0 1095.0,876.9 1096.0,876.7 1097.0,876.5 1098.0,876.2 1099.0,876.0 1100.0,876.0 1101.0,876.0 1102.0,875.9 1103.0,875.9 1104.0,875.9 1105.0,875.9 1106.0,875.9 1107.0,876.0 1108.0,876.2 1109.0,876.5 1110.0,876.8 1111.0,877.0 1112.0,877.0 1113.0,877.0 1114.0,876.9 1115.0,876.9 1116.0,876.8 1117.0,876.7 1118.0,876.6 1119.0,876.5 1120.0,876.4 1121.0,876.3 1122.0,876.2 1123.0,876.1 1124.0,875.9 1125.0,875.7 1126.0,875.4 1127.0,875.1 1128.0,874.8 1129.0,874.9 1130.0,874.1 1131.0,872.9 1132.0,871.6 1133.0,870.2 1134.0,868.9 1135.0,867.9 1136.0,867.1 1137.0,866.3 1138.0,865.5 1139.0,864.7 1140.0,863.7 1141.0,862.5 1142.0,861.1 1143.0,859.2 1144.0,856.5 1145.0,853.1 1146.0,848.9 1147.0,844.0 1148.0,838.7 1149.0,832.0 1150.0,823.3 1151.0,812.8 1152.0,801.1 1153.0,788.6 1154.0,773.9 1155.0,756.8 1156.0,738.5 1157.0,720.2 1158.0,701.2 1159.0,681.5 1160.0,661.4 1161.0,641.2 1162.0,621.3 1163.0,602.0 1164.0,582.7 1165.0,562.8 1166.0,541.7 1167.0,517.8 1168.0,490.8 1169.0,469.5 1170.0,453.3 1171.0,438.7 1172.0,425.6 1173.0,413.3 1174.0,402.6 1175.0,393.8 1176.0,387.6 1177.0,382.5 1178.0,380.1 1179.0,379.1 1180.0,380.9 1181.0,384.5 1182.0,390.4 1183.0,400.8 1184.0,415.0 1185.0,428.8 1186.0,444.8 1187.0,459.7 1188.0,474.0 1189.0,489.9 1190.0,507.0 1191.0,524.3 1192.0,541.2 1193.0,558.1 1194.0,575.0 1195.0,591.7 1196.0,608.3 1197.0,624.4 1198.0,640.3 1199.0,656.2 1200.0,671.9 1201.0,687.3 1202.0,702.1 1203.0,716.3 1204.0,729.6 1205.0,742.7 1206.0,755.5 1207.0,767.5 1208.0,778.5 1209.0,788.2 1210.0,796.4 1211.0,804.0 1212.0,810.9 1213.0,817.3 1214.0,823.4 1215.0,829.1 1216.0,834.8 1217.0,840.3 1218.0,845.7 1219.0,850.9 1220.0,855.6 1221.0,860.0 1222.0,864.5 1223.0,869.1 1224.0,872.7 1225.0,875.1 1226.0,875.0 1227.0,874.9 1228.0,874.7 1229.0,874.5 1230.0,874.4 1231.0,874.3 1232.0,874.2 1233.0,874.3 1234.0,874.5 1235.0,874.7 1236.0,874.9 1237.0,875.1 1238.0,875.2 1239.0,875.0 1240.0,874.5 1241.0,873.9 1242.0,873.2 1243.0,872.8 1244.0,872.6 1245.0,872.7 1246.0,873.1 1247.0,873.6 1248.0,874.2 1249.0,874.6 1250.0,874.9 1251.0,875.0 1252.0,875.2 1253.0,875.3 1254.0,875.3 1255.0,875.4 1256.0,875.4 1257.0,875.3 1258.0,875.2 1259.0,874.9 1260.0,874.7 1261.0,874.4 1262.0,874.3 1263.0,874.1 1264.0,874.0 1265.0,873.9 1266.0,873.8 1267.0,873.7 1268.0,873.6 1269.0,873.7 1270.0,873.8 1271.0,874.0 1272.0,874.3 1273.0,874.4 1274.0,873.9 1275.0,873.1 1276.0,872.2 1277.0,871.2 1278.0,870.2 1279.0,868.8 1280.0,867.1 1281.0,865.3 1282.0,863.8 1283.0,862.7 1284.0,862.1 1285.0,861.4 1286.0,860.8 1287.0,860.2 1288.0,859.7 1289.0,859.1 1290.0,858.6 1291.0,858.1 1292.0,857.9 1293.0,858.1 1294.0,858.6 1295.0,859.3 1296.0,859.9 1297.0,860.4 1298.0,860.7 1299.0,860.6 1300.0,860.1 1301.0,859.6 1302.0,859.2 1303.0,859.1 1304.0,859.3 1305.0,859.8 1306.0,860.4 1307.0,861.1 1308.0,861.7 1309.0,862.3 1310.0,862.8 1311.0,863.2 1312.0,863.5 1313.0,863.8 1314.0,864.3 1315.0,864.8 1316.0,865.4 1317.0,866.1 1318.0,866.8 1319.0,867.5 1320.0,868.2 1321.0,868.8 1322.0,869.4 1323.0,869.8 1324.0,870.0 1325.0,870.1 1326.0,870.3 1327.0,870.4 1328.0,870.6 1329.0,870.9 1330.0,871.4 1331.0,872.0 1332.0,872.6" stroke="#000" stroke-width="3.6"/>
<path d="M110.0,876.4 111.0,876.4 112.0,876.4 113.0,876.4 114.0,876.4 115.0,876.4 116.0,876.4 117.0,876.4 118.0,876.4 119.0,876.4 120.0,876.4 121.0,876.4 122.0,876.4 123.0,876.4 124.0,876.4 125.0,876.4 126.0,876.4 127.0,876.4 128.0,876.4 129.0,876.4 130.0,876.4 131.0,876.4 132.0,876.4 133.0,876.4 134.0,876.4 135.0,876.4 136.0,876.4 137.0,876.4 138.0,876.4 139.0,876.4 140.0,876.4 141.0,876.4 142.0,876.4 143.0,876.4 144.0,876.4 145.0,876.4 146.0,876.4 147.0,876.4 148.0,876.4 149.0,876.4 150.0,876.4 151.0,876.4 152.0,876.4 153.0,876.4 154.0,876.4 155.0,876.4 156.0,876.4 157.0,876.4 158.0,876.4 159.0,876.4 160.0,876.4 161.0,876.4 162.0,876.4 163.0,876.4 164.0,876.4 165.0,876.4 166.0,876.4 167.0,876.4 168.0,876.4 169.0,876.4 170.0,876.4 171.0,876.4 172.0,876.4 173.0,876.4 174.0,876.4 175.0,876.4 176.0,876.4 177.0,876.4 178.0,876.4 179.0,876.4 180.0,876.4 181.0,876.4 182.0,876.4 183.0,876.4 184.0,876.4 185.0,876.4 186.0,876.4 187.0,876.4 188.0,876.4 189.0,876.4 190.0,876.4 191.0,876.4 192.0,876.4 193.0,876.4 194.0,876.4 195.0,876.4 196.0,876.4 197.0,876.4 198.0,876.4 199.0,876.4 200.0,876.4 201.0,876.4 202.0,876.4 203.0,876.4 204.0,876.4 205.0,876.4 206.0,876.4 207.0,876.4 208.0,876.4 209.0,876.4 210.0,876.4 211.0,876.4 212.0,876.4 213.0,876.4 214.0,876.4 215.0,876.4 216.0,876.4 217.0,876.4 218.0,876.4 219.0,876.4 220.0,876.4 221.0,876.4 222.0,876.4 223.0,876.4 224.0,876.4 225.0,876.4 226.0,876.4 227.0,876.4 228.0,876.4 229.0,876.4 230.0,876.4 231.0,876.4 232.0,876.4 233.0,876.4 234.0,876.4 235.0,876.4 236.0,876.4 237.0,876.4 238.0,876.4 239.0,876.4 240.0,876.4 241.0,876.4 242.0,876.4 243.0,876.4 244.0,876.4 245.0,876.4 246.0,876.4 247.0,876.4 248.0,876.4 249.0,876.4 250.0,876.4 251.0,876.4 252.0,876.4 253.0,876.4 254.0,876.4 255.0,876.4 256.0,876.4 257.0,876.4 258.0,876.4 259.0,876.4 260.0,876.4 261.0,876.4 262.0,876.4 263.0,876.4 264.0,876.4 265.0,876.4 266.0,876.4 267.0,876.4 268.0,876.4 269.0,876.4 270.0,876.4 271.0,876.4 272.0,876.4 273.0,876.4 274.0,876.4 275.0,876.4 276.0,876.4 277.0,876.4 278.0,876.4 279.0,876.4 280.0,876.4 281.0,876.4 282.0,876.4 283.0,876.4 284.0,876.4 285.0,876.4 286.0,876.4 287.0,876.4 288.0,876.4 289.0,876.4 290.0,876.4 291.0,876.4 292.0,876.4 293.0,876.4 294.0,876.4 295.0,876.4 296.0,876.4 297.0,876.4 298.0,876.4 299.0,876.4 300.0,876.4 301.0,876.4 302.0,876.4 303.0,876.4 304.0,876.4 305.0,876.4 306.0,876.4 307.0,876.4 308.0,876.4 309.0,876.4 310.0,876.4 311.0,876.4 312.0,876.4 313.0,876.4 314.0,876.4 315.0,876.4 316.0,876.4 317.0,876.4 318.0,876.4 319.0,876.4 320.0,876.4 321.0,876.4 322.0,876.4 323.0,876.4 324.0,876.4 325.0,876.4 326.0,876.4 327.0,876.4 328.0,876.4 329.0,876.4 330.0,876.4 331.0,876.4 332.0,876.4 333.0,876.4 334.0,876.4 335.0,876.4 336.0,876.4 337.0,876.4 338.0,876.4 339.0,876.4 340.0,876.4 341.0,876.4 342.0,876.4 343.0,876.4 344.0,876.4 345.0,876.4 346.0,876.4 347.0,876.4 348.0,876.4 349.0,876.4 350.0,876.4 351.0,876.4 352.0,876.4 353.0,876.4 354.0,876.4 355.0,876.4 356.0,876.4 357.0,876.4 358.0,876.4 359.0,876.4 360.0,876.4 361.0,876.4 362.0,876.4 363.0,876.4 364.0,876.4 365.0,876.4 366.0,876.4 367.0,876.4 368.0,876.4 369.0,876.4 370.0,876.4 371.0,876.4 372.0,876.4 373.0,876.4 374.0,876.4 375.0,876.4 376.0,876.4 377.0,876.4 378.0,876.4 379.0,876.4 380.0,876.4 381.0,876.4 382.0,876.4 383.0,876.4 384.0,876.4 385.0,876.4 386.0,876.4 387.0,876.4 388.0,876.4 389.0,876.4 390.0,876.4 391.0,876.4 392.0,876.4 393.0,876.4 394.0,876.4 395.0,876.4 396.0,876.4 397.0,876.4 398.0,876.4 399.0,876.4 400.0,876.4 401.0,876.4 402.0,876.4 403.0,876.4 404.0,876.4 405.0,876.4 406.0,876.4 407.0,876.4 408.0,876.4 409.0,876.4 410.0,876.4 411.0,876.4 412.0,876.4 413.0,876.4 414.0,876.4 415.0,876.4 416.0,876.4 417.0,876.4 418.0,876.4 419.0,876.4 420.0,876.4 421.0,876.4 422.0,876.4 423.0,876.4 424.0,876.4 425.0,876.4 426.0,876.4 427.0,876.4 428.0,876.4 429.0,876.4 430.0,876.4 431.0,876.4 432.0,876.4 433.0,876.4 434.0,876.4 435.0,876.4 436.0,876.4 437.0,876.4 438.0,876.4 439.0,876.4 440.0,876.4 441.0,876.4 442.0,876.4 443.0,876.4 444.0,876.4 445.0,876.4 446.0,876.4 447.0,876.4 448.0,876.4 449.0,876.4 450.0,876.4 451.0,876.4 452.0,876.4 453.0,876.4 454.0,876.4 455.0,876.4 456.0,876.4 457.0,876.4 458.0,876.4 459.0,876.4 460.0,876.4 461.0,876.4 462.0,876.4 463.0,876.4 464.0,876.4 465.0,876.4 466.0,876.4 467.0,876.4 468.0,876.4 469.0,876.4 470.0,876.4 471.0,876.4 472.0,876.4 473.0,876.4 474.0,876.4 475.0,876.4 476.0,876.4 477.0,876.4 478.0,876.4 479.0,876.4 480.0,876.4 481.0,876.4 482.0,876.4 483.0,876.4 484.0,876.4 485.0,876.4 486.0,876.4 487.0,876.4 488.0,876.4 489.0,876.4 490.0,876.4 491.0,876.4 492.0,876.4 493.0,876.4 494.0,876.4 495.0,876.4 496.0,876.4 497.0,876.4 498.0,876.4 499.0,876.4 500.0,876.4 501.0,876.4 502.0,876.4 503.0,876.4 504.0,876.4 505.0,876.4 506.0,876.4 507.0,876.4 508.0,876.4 509.0,876.4 510.0,876.4 511.0,876.4 512.0,876.4 513.0,876.4 514.0,876.4 515.0,876.4 516.0,876.4 517.0,876.4 518.0,876.4 519.0,876.4 520.0,876.4 521.0,876.4 522.0,876.4 523.0,876.4 524.0,876.4 525.0,876.4 526.0,876.4 527.0,876.4 528.0,876.4 529.0,876.4 530.0,876.4 531.0,876.4 532.0,876.4 533.0,876.4 534.0,876.4 535.0,876.4 536.0,876.4 537.0,876.4 538.0,876.4 539.0,876.4 540.0,876.4 541.0,876.4 542.0,876.4 543.0,876.4 544.0,876.4 545.0,876.4 546.0,876.4 547.0,876.4 548.0,876.4 549.0,876.4 550.0,876.4 551.0,876.4 552.0,876.4 553.0,876.4 554.0,876.4 555.0,876.4 556.0,876.4 557.0,876.4 558.0,876.4 559.0,876.4 560.0,876.4 561.0,876.4 562.0,876.4 563.0,876.4 564.0,876.4 565.0,876.4 566.0,876.4 567.0,876.4 568.0,876.4 569.0,876.4 570.0,876.4 571.0,876.4 572.0,876.4 573.0,876.4 574.0,876.4 575.0,876.4 576.0,876.4 577.0,876.4 578.0,876.4 579.0,876.4 580.0,876.4 581.0,876.4 582.0,876.4 583.0,876.4 584.0,876.4 585.0,876.4 586.0,876.4 587.0,876.4 588.0,876.4 589.0,876.4 590.0,876.4 591.0,876.4 592.0,876.4 593.0,876.4 594.0,876.4 595.0,876.4 596.0,876.4 597.0,876.4 598.0,876.4 599.0,876.4 600.0,876.4 601.0,876.4 602.0,876.4 603.0,876.4 604.0,876.4 605.0,876.4 606.0,876.4 607.0,876.4 608.0,876.4 609.0,876.4 610.0,876.4 611.0,876.4 612.0,876.4 613.0,876.4 614.0,876.4 615.0,876.4 616.0,876.4 617.0,876.4 618.0,876.4 619.0,876.4 620.0,876.4 621.0,876.4 622.0,876.4 623.0,876.4 624.0,876.4 625.0,876.4 626.0,876.4 627.0,876.4 628.0,876.4 629.0,876.4 630.0,876.4 631.0,876.4 632.0,876.4 633.0,876.4 634.0,876.4 635.0,876.4 636.0,876.4 637.0,876.4 638.0,876.4 639.0,876.4 640.0,876.4 641.0,876.4 642.0,876.4 643.0,876.4 644.0,876.4 645.0,876.4 646.0,876.4 647.0,876.4 648.0,876.4 649.0,876.4 650.0,876.4 651.0,876.4 652.0,876.4 653.0,876.4 654.0,876.4 655.0,876.4 656.0,876.4 657.0,876.4 658.0,876.4 659.0,876.4 660.0,876.4 661.0,876.4 662.0,876.4 663.0,876.4 664.0,876.4 665.0,876.4 666.0,876.4 667.0,876.4 668.0,876.4 669.0,876.4 670.0,876.4 671.0,876.4 672.0,876.4 673.0,876.4 674.0,876.4 675.0,876.4 676.0,876.4 677.0,876.4 678.0,876.4 679.0,876.4 680.0,876.4 681.0,876.4 682.0,876.3 683.0,876.3 684.0,876.2 685.0,876.1 686.0,876.0 687.0,875.9 688.0,875.8 689.0,875.7 690.0,875.5 691.0,875.4 692.0,875.3 693.0,875.3 694.0,875.2 695.0,875.1 696.0,875.0 697.0,874.9 698.0,874.9 699.0,874.8 700.0,874.7 701.0,874.6 702.0,874.6 703.0,874.5 704.0,874.4 705.0,874.3 706.0,874.2 707.0,874.0 708.0,873.9 709.0,873.8 710.0,873.6 711.0,873.4 712.0,873.2 713.0,873.0 714.0,872.7 715.0,872.3 716.0,871.9 717.0,871.4 718.0,870.8 719.0,870.2 720.0,869.5 721.0,868.5 722.0,867.0 723.0,865.2 724.0,863.1 725.0,860.9 726.0,858.8 727.0,856.8 728.0,854.7 729.0,852.5 730.0,850.0 731.0,847.1 732.0,843.5 733.0,839.0 734.0,833.9 735.0,828.3 736.0,821.9 737.0,814.7 738.0,806.8 739.0,798.1 740.0,788.3 741.0,777.9 742.0,767.2 743.0,756.1 744.0,744.2 745.0,730.6 746.0,715.9 747.0,702.3 748.0,689.1 749.0,676.1 750.0,663.1 751.0,649.4 752.0,635.7 753.0,623.1 754.0,612.4 755.0,604.1 756.0,596.2 757.0,586.4 758.0,574.8 759.0,563.9 760.0,554.1 761.0,545.5 762.0,538.5 763.0,533.8 764.0,531.1 765.0,531.6 766.0,534.6 767.0,537.7 768.0,541.3 769.0,545.4 770.0,550.2 771.0,555.5 772.0,561.4 773.0,567.9 774.0,575.4 775.0,583.5 776.0,591.8 777.0,600.1 778.0,608.7 779.0,617.9 780.0,628.0 781.0,638.6 782.0,649.3 783.0,659.8 784.0,669.7 785.0,679.0 786.0,687.9 787.0,696.7 788.0,705.6 789.0,714.8 790.0,724.6 791.0,735.0 792.0,744.6 793.0,753.9 794.0,762.7 795.0,770.5 796.0,777.2 797.0,783.3 798.0,789.0 799.0,794.3 800.0,799.3 801.0,804.0 802.0,808.4 803.0,812.7 804.0,816.8 805.0,820.7 806.0,824.3 807.0,827.7 808.0,830.9 809.0,833.8 810.0,836.5 811.0,839.2 812.0,841.6 813.0,843.9 814.0,846.0 815.0,848.0 816.0,849.8 817.0,851.6 818.0,853.2 819.0,854.7 820.0,856.2 821.0,857.6 822.0,858.9 823.0,860.2 824.0,861.5 825.0,862.7 826.0,863.9 827.0,865.0 828.0,866.1 829.0,867.1 830.0,868.0 831.0,868.8 832.0,869.4 833.0,870.0 834.0,870.6 835.0,871.1 836.0,871.6 837.0,872.0 838.0,872.4 839.0,872.8 840.0,873.2 841.0,873.5 842.0,873.8 843.0,874.1 844.0,874.4 845.0,874.6 846.0,874.9 847.0,875.1 848.0,875.4 849.0,875.6 850.0,875.8 851.0,876.0 852.0,876.2 853.0,876.3 854.0,876.4 855.0,876.4 856.0,876.4 857.0,876.4 858.0,876.4 859.0,876.5 860.0,876.5 861.0,876.5 862.0,876.5 863.0,876.5 864.0,876.5 865.0,876.5 866.0,876.5 867.0,876.5 868.0,876.6 869.0,876.6 870.0,876.6 871.0,876.6 872.0,876.6 873.0,876.6 874.0,876.6 875.0,876.6 876.0,876.6 877.0,876.6 878.0,876.6 879.0,876.6 880.0,876.6 881.0,876.6 882.0,876.6 883.0,876.6 884.0,876.6 885.0,876.6 886.0,876.6 887.0,876.6 888.0,876.6 889.0,876.6 890.0,876.6 891.0,876.6 892.0,876.6 893.0,876.6 894.0,876.6 895.0,876.6 896.0,876.6 897.0,876.6 898.0,876.6 899.0,876.6 900.0,876.6 901.0,876.6 902.0,876.6 903.0,876.6 904.0,876.6 905.0,876.6 906.0,876.6 907.0,876.7 908.0,876.7 909.0,876.7 910.0,876.7 911.0,876.7 912.0,876.7 913.0,876.7 914.0,876.7 915.0,876.7 916.0,876.7 917.0,876.7 918.0,876.7 919.0,876.7 920.0,876.7 921.0,876.7 922.0,876.7 923.0,876.7 924.0,876.7 925.0,876.7 926.0,876.7 927.0,876.7 928.0,876.7 929.0,876.7 930.0,876.7 931.0,876.7 932.0,876.7 933.0,876.7 934.0,876.7 935.0,876.7 936.0,876.7 937.0,876.7 938.0,876.7 939.0,876.7 940.0,876.7 941.0,876.7 942.0,876.7 943.0,876.7 944.0,876.7 945.0,876.7 946.0,876.7 947.0,876.7 948.0,876.7 949.0,876.7 950.0,876.7 951.0,876.7 952.0,876.7 953.0,876.7 954.0,876.7 955.0,876.7 956.0,876.7 957.0,876.7 958.0,876.7 959.0,876.7 960.0,876.7 961.0,876.7 962.0,876.7 963.0,876.7 964.0,876.7 965.0,876.7 966.0,876.7 967.0,876.7 968.0,876.7 969.0,876.7 970.0,876.7 971.0,876.7 972.0,876.7 973.0,876.7 974.0,876.7 975.0,876.7 976.0,876.7 977.0,876.7 978.0,876.7 979.0,876.7 980.0,876.7 981.0,876.7 982.0,876.7 983.0,876.8 984.0,876.8 985.0,876.8 986.0,876.8 987.0,876.8 988.0,876.8 989.0,876.8 990.0,876.8 991.0,876.8 992.0,876.8 993.0,876.8 994.0,876.8 995.0,876.8 996.0,876.8 997.0,876.8 998.0,876.8 999.0,876.8 1000.0,876.8 1001.0,876.8 1002.0,876.8 1003.0,876.8 1004.0,876.8 1005.0,876.8 1006.0,876.8 1007.0,876.8 1008.0,876.8 1009.0,876.8 1010.0,876.8 1011.0,876.8 1012.0,876.8 1013.0,876.8 1014.0,876.8 1015.0,876.8 1016.0,876.8 1017.0,876.8 1018.0,876.8 1019.0,876.8 1020.0,876.8 1021.0,876.8 1022.0,876.8 1023.0,876.8 1024.0,876.8 1025.0,876.8 1026.0,876.8 1027.0,876.8 1028.0,876.8 1029.0,876.8 1030.0,876.8 1031.0,876.8 1032.0,876.8 1033.0,876.8 1034.0,876.8 1035.0,876.8 1036.0,876.8 1037.0,876.8 1038.0,876.8 1039.0,876.8 1040.0,876.8 1041.0,876.8 1042.0,876.8 1043.0,876.8 1044.0,876.8 1045.0,876.8 1046.0,876.8 1047.0,876.8 1048.0,876.8 1049.0,876.8 1050.0,876.8 1051.0,876.8 1052.0,876.8 1053.0,876.8 1054.0,876.8 1055.0,876.8 1056.0,876.8 1057.0,876.8 1058.0,876.8 1059.0,876.8 1060.0,876.8 1061.0,876.8 1062.0,876.8 1063.0,876.8 1064.0,876.8 1065.0,876.8 1066.0,876.8 1067.0,876.8 1068.0,876.8 1069.0,876.8 1070.0,876.8 1071.0,876.8 1072.0,876.8 1073.0,876.8 1074.0,876.8 1075.0,876.8 1076.0,876.8 1077.0,876.8 1078.0,876.8 1079.0,876.8 1080.0,876.8 1081.0,876.8 1082.0,876.8 1083.0,876.8 1084.0,876.8 1085.0,876.8 1086.0,876.8 1087.0,876.8 1088.0,876.8 1089.0,876.8 1090.0,876.8 1091.0,876.8 1092.0,876.8 1093.0,876.8 1094.0,876.8 1095.0,876.8 1096.0,876.8 1097.0,876.8 1098.0,876.8 1099.0,876.8 1100.0,876.8 1101.0,876.8 1102.0,876.8 1103.0,876.8 1104.0,876.8 1105.0,876.8 1106.0,876.8 1107.0,876.8 1108.0,876.8 1109.0,876.8 1110.0,876.8 1111.0,876.8 1112.0,876.8 1113.0,876.8 1114.0,876.8 1115.0,876.8 1116.0,876.8 1117.0,876.8 1118.0,876.8 1119.0,876.8 1120.0,876.8 1121.0,876.8 1122.0,876.8 1123.0,876.8 1124.0,876.8 1125.0,876.8 1126.0,876.8 1127.0,876.8 1128.0,876.8 1129.0,876.8 1130.0,876.8 1131.0,876.8 1132.0,876.8 1133.0,876.8 1134.0,876.8 1135.0,876.8 1136.0,876.8 1137.0,876.8 1138.0,876.8 1139.0,876.8 1140.0,876.8 1141.0,876.8 1142.0,876.8 1143.0,876.8 1144.0,876.8 1145.0,876.8 1146.0,876.8 1147.0,876.8 1148.0,876.8 1149.0,876.8 1150.0,876.8 1151.0,876.8 1152.0,876.8 1153.0,876.8 1154.0,876.8 1155.0,876.8 1156.0,876.8 1157.0,876.8 1158.0,876.8 1159.0,876.8 1160.0,876.8 1161.0,876.8 1162.0,876.8 1163.0,876.8 1164.0,876.8 1165.0,876.8 1166.0,876.8 1167.0,876.8 1168.0,876.8 1169.0,876.8 1170.0,876.8 1171.0,876.8 1172.0,876.8 1173.0,876.8 1174.0,876.8 1175.0,876.8 1176.0,876.8 1177.0,876.8 1178.0,876.8 1179.0,876.8 1180.0,876.8 1181.0,876.8 1182.0,876.8 1183.0,876.8 1184.0,876.8 1185.0,876.8 1186.0,876.8 1187.0,876.8 1188.0,876.8 1189.0,876.8 1190.0,876.8 1191.0,876.8 1192.0,876.8 1193.0,876.8 1194.0,876.8 1195.0,876.8 1196.0,876.8 1197.0,876.8 1198.0,876.8 1199.0,876.8 1200.0,876.8 1201.0,876.8 1202.0,876.8 1203.0,876.8 1204.0,876.8 1205.0,876.8 1206.0,876.8 1207.0,876.8 1208.0,876.8 1209.0,876.8 1210.0,876.8 1211.0,876.8 1212.0,876.8 1213.0,876.8 1214.0,876.8 1215.0,876.8 1216.0,876.8 1217.0,876.8 1218.0,876.8 1219.0,876.8 1220.0,876.8 1221.0,876.8 1222.0,876.8 1223.0,876.8 1224.0,876.8 1225.0,876.8 1226.0,876.8 1227.0,876.8 1228.0,876.8 1229.0,876.8 1230.0,876.8 1231.0,876.8 1232.0,876.8 1233.0,876.8 1234.0,876.8 1235.0,876.8 1236.0,876.8 1237.0,876.8 1238.0,876.8 1239.0,876.8 1240.0,876.8 1241.0,876.8 1242.0,876.8 1243.0,876.8 1244.0,876.8 1245.0,876.8 1246.0,876.8 1247.0,876.8 1248.0,876.8 1249.0,876.8 1250.0,876.8 1251.0,876.8 1252.0,876.8 1253.0,876.8 1254.0,876.8 1255.0,876.8 1256.0,876.8 1257.0,876.8 1258.0,876.8 1259.0,876.8 1260.0,876.8 1261.0,876.8 1262.0,876.8 1263.0,876.8 1264.0,876.8 1265.0,876.8 1266.0,876.8 1267.0,876.8 1268.0,876.8 1269.0,876.8 1270.0,876.8 1271.0,876.8 1272.0,876.8 1273.0,876.8 1274.0,876.8 1275.0,876.8 1276.0,876.8 1277.0,876.8 1278.0,876.8 1279.0,876.8 1280.0,876.8 1281.0,876.8 1282.0,876.8 1283.0,876.8 1284.0,876.8 1285.0,876.8 1286.0,876.8 1287.0,876.8 1288.0,876.8 1289.0,876.8 1290.0,876.8 1291.0,876.8 1292.0,876.8 1293.0,876.8 1294.0,876.8 1295.0,876.8 1296.0,876.8 1297.0,876.8 1298.0,876.8 1299.0,876.8 1300.0,876.8 1301.0,876.8 1302.0,876.8 1303.0,876.8 1304.0,876.8 1305.0,876.8 1306.0,876.8 1307.0,876.8 1308.0,876.8 1309.0,876.8 1310.0,876.8 1311.0,876.8 1312.0,876.8 1313.0,876.8 1314.0,876.8 1315.0,876.8 1316.0,876.8 1317.0,876.8 1318.0,876.8 1319.0,876.8 1320.0,876.8 1321.0,876.8 1322.0,876.8 1323.0,876.8 1324.0,876.8 1325.0,876.8 1326.0,876.8 1327.0,876.8 1328.0,876.8 1329.0,876.8 1330.0,876.8 1331.0,876.8 1332.0,876.8" stroke="#ff00ff" stroke-dasharray="8.1 7.2" stroke-width="3.6"/>
<path d="M110.0,874.7 111.0,874.8 112.0,874.8 113.0,874.8 114.0,874.9 115.0,875.0 116.0,875.0 117.0,875.2 118.0,875.4 119.0,875.7 120.0,876.0 121.0,876.2 122.0,876.3 123.0,876.3 124.0,876.2 125.0,876.1 126.0,875.9 127.0,875.7 128.0,875.6 129.0,875.3 130.0,875.0 131.0,874.6 132.0,874.3 133.0,874.0 134.0,873.9 135.0,874.0 136.0,874.2 137.0,874.5 138.0,874.7 139.0,875.0 140.0,875.0 141.0,875.0 142.0,874.9 143.0,874.8 144.0,874.7 145.0,874.6 146.0,874.6 147.0,874.6 148.0,874.7 149.0,874.8 150.0,875.0 151.0,875.1 152.0,875.1 153.0,875.0 154.0,874.8 155.0,874.5 156.0,874.2 157.0,873.9 158.0,873.8 159.0,873.9 160.0,874.2 161.0,874.5 162.0,874.8 163.0,875.0 164.0,875.1 165.0,875.1 166.0,875.1 167.0,875.1 168.0,875.1 169.0,875.1 170.0,875.1 171.0,875.1 172.0,875.3 173.0,875.5 174.0,875.7 175.0,875.9 176.0,876.0 177.0,875.9 178.0,875.7 179.0,875.5 180.0,875.3 181.0,875.1 182.0,875.1 183.0,875.1 184.0,875.1 185.0,875.1 186.0,875.2 187.0,875.2 188.0,875.2 189.0,875.1 190.0,874.8 191.0,874.5 192.0,874.1 193.0,873.9 194.0,873.8 195.0,874.0 196.0,874.4 197.0,875.1 198.0,875.7 199.0,876.2 200.0,876.4 201.0,876.2 202.0,875.6 203.0,874.9 204.0,874.2 205.0,873.7 206.0,873.4 207.0,873.6 208.0,874.0 209.0,874.5 210.0,875.0 211.0,875.4 212.0,875.5 213.0,875.5 214.0,875.3 215.0,875.1 216.0,874.9 217.0,874.7 218.0,874.5 219.0,874.4 220.0,874.3 221.0,874.3 222.0,874.2 223.0,874.1 224.0,874.1 225.0,874.1 226.0,874.2 227.0,874.2 228.0,874.2 229.0,874.3 230.0,874.3 231.0,874.3 232.0,874.3 233.0,874.3 234.0,874.3 235.0,874.2 236.0,874.2 237.0,874.3 238.0,874.4 239.0,874.6 240.0,874.8 241.0,874.9 242.0,875.0 243.0,874.9 244.0,874.9 245.0,874.8 246.0,874.7 247.0,874.6 248.0,874.6 249.0,874.7 250.0,874.9 251.0,875.2 252.0,875.4 253.0,875.6 254.0,875.7 255.0,875.5 256.0,875.1 257.0,874.6 258.0,874.0 259.0,873.6 260.0,873.4 261.0,873.5 262.0,873.7 263.0,874.0 264.0,874.3 265.0,874.6 266.0,874.7 267.0,874.6 268.0,874.5 269.0,874.3 270.0,874.2 271.0,874.1 272.0,874.0 273.0,874.1 274.0,874.3 275.0,874.6 276.0,874.9 277.0,875.1 278.0,875.2 279.0,875.0 280.0,874.7 281.0,874.2 282.0,873.7 283.0,873.3 284.0,873.1 285.0,873.2 286.0,873.4 287.0,873.7 288.0,874.0 289.0,874.2 290.0,874.4 291.0,874.5 292.0,874.6 293.0,874.6 294.0,874.7 295.0,874.7 296.0,874.8 297.0,874.7 298.0,874.4 299.0,874.2 300.0,873.9 301.0,873.6 302.0,873.6 303.0,873.7 304.0,874.0 305.0,874.4 306.0,874.8 307.0,875.1 308.0,875.3 309.0,875.2 310.0,875.1 311.0,875.0 312.0,874.8 313.0,874.7 314.0,874.7 315.0,874.7 316.0,874.8 317.0,875.0 318.0,875.1 319.0,875.2 320.0,875.3 321.0,875.3 322.0,875.3 323.0,875.3 324.0,875.2 325.0,875.2 326.0,875.2 327.0,875.1 328.0,874.9 329.0,874.5 330.0,874.2 331.0,874.0 332.0,873.9 333.0,873.9 334.0,873.9 335.0,873.9 336.0,873.9 337.0,873.9 338.0,874.0 339.0,874.0 340.0,874.1 341.0,874.1 342.0,874.2 343.0,874.3 344.0,874.4 345.0,874.5 346.0,874.6 347.0,874.7 348.0,874.9 349.0,875.0 350.0,875.0 351.0,875.0 352.0,875.1 353.0,875.1 354.0,875.1 355.0,875.1 356.0,875.1 357.0,875.0 358.0,874.8 359.0,874.5 360.0,874.3 361.0,874.1 362.0,874.0 363.0,874.0 364.0,874.0 365.0,874.0 366.0,874.0 367.0,874.0 368.0,874.0 369.0,874.0 370.0,874.0 371.0,874.0 372.0,873.9 373.0,873.9 374.0,873.9 375.0,873.9 376.0,873.9 377.0,873.9 378.0,874.0 379.0,874.0 380.0,874.0 381.0,874.1 382.0,874.1 383.0,874.2 384.0,874.2 385.0,874.2 386.0,874.3 387.0,874.3 388.0,874.3 389.0,874.3 390.0,874.3 391.0,874.3 392.0,874.3 393.0,874.5 394.0,874.7 395.0,875.1 396.0,875.5 397.0,875.7 398.0,875.8 399.0,875.7 400.0,875.4 401.0,874.9 402.0,874.5 403.0,874.2 404.0,874.0 405.0,874.0 406.0,874.1 407.0,874.1 408.0,874.1 409.0,874.1 410.0,874.2 411.0,874.2 412.0,874.3 413.0,874.5 414.0,874.6 415.0,874.7 416.0,874.7 417.0,874.6 418.0,874.4 419.0,874.2 420.0,874.0 421.0,873.8 422.0,873.7 423.0,873.7 424.0,873.8 425.0,873.9 426.0,873.9 427.0,874.0 428.0,874.1 429.0,874.1 430.0,874.2 431.0,874.2 432.0,874.3 433.0,874.3 434.0,874.3 435.0,874.4 436.0,874.5 437.0,874.7 438.0,874.8 439.0,874.8 440.0,874.9 441.0,874.8 442.0,874.5 443.0,874.1 444.0,873.8 445.0,873.5 446.0,873.4 447.0,873.5 448.0,873.9 449.0,874.3 450.0,874.8 451.0,875.1 452.0,875.3 453.0,875.2 454.0,875.0 455.0,874.7 456.0,874.4 457.0,874.1 458.0,874.1 459.0,874.1 460.0,874.1 461.0,874.2 462.0,874.3 463.0,874.3 464.0,874.4 465.0,874.5 466.0,874.6 467.0,874.7 468.0,874.8 469.0,874.8 470.0,874.9 471.0,874.9 472.0,874.8 473.0,874.8 474.0,874.8 475.0,874.7 476.0,874.7 477.0,874.7 478.0,874.8 479.0,874.9 480.0,874.9 481.0,875.0 482.0,875.0 483.0,874.9 484.0,874.8 485.0,874.7 486.0,874.6 487.0,874.4 488.0,874.4 489.0,874.3 490.0,874.3 491.0,874.3 492.0,874.2 493.0,874.2 494.0,874.2 495.0,874.2 496.0,874.3 497.0,874.3 498.0,874.4 499.0,874.4 500.0,874.4 501.0,874.4 502.0,874.2 503.0,874.0 504.0,873.7 505.0,873.6 506.0,873.5 507.0,873.6 508.0,873.9 509.0,874.3 510.0,874.6 511.0,874.9 512.0,875.0 513.0,874.9 514.0,874.7 515.0,874.4 516.0,874.1 517.0,873.8 518.0,873.6 519.0,873.5 520.0,873.4 521.0,873.4 522.0,873.3 523.0,873.3 524.0,873.3 525.0,873.4 526.0,873.9 527.0,874.4 528.0,875.0 529.0,875.4 530.0,875.6 531.0,875.5 532.0,875.2 533.0,874.9 534.0,874.6 535.0,874.2 536.0,874.0 537.0,873.8 538.0,873.7 539.0,873.5 540.0,873.4 541.0,873.3 542.0,873.3 543.0,873.4 544.0,873.8 545.0,874.3 546.0,874.8 547.0,875.2 548.0,875.4 549.0,875.2 550.0,875.0 551.0,874.6 552.0,874.2 553.0,873.9 554.0,873.8 555.0,873.9 556.0,874.0 557.0,874.3 558.0,874.5 559.0,874.7 560.0,874.7 561.0,874.6 562.0,874.4 563.0,874.1 564.0,873.7 565.0,873.5 566.0,873.4 567.0,873.4 568.0,873.5 569.0,873.6 570.0,873.7 571.0,873.7 572.0,873.7 573.0,873.7 574.0,873.5 575.0,873.2 576.0,873.0 577.0,872.8 578.0,872.7 579.0,872.6 580.0,872.6 581.0,872.5 582.0,872.5 583.0,872.5 584.0,872.5 585.0,872.5 586.0,872.6 587.0,872.7 588.0,872.8 589.0,872.9 590.0,873.1 591.0,873.1 592.0,873.2 593.0,873.3 594.0,873.4 595.0,873.5 596.0,873.6 597.0,873.7 598.0,873.8 599.0,873.8 600.0,873.9 601.0,874.0 602.0,874.1 603.0,874.1 604.0,874.2 605.0,874.3 606.0,874.3 607.0,874.3 608.0,874.1 609.0,873.8 610.0,873.2 611.0,872.6 612.0,871.9 613.0,871.4 614.0,871.1 615.0,870.7 616.0,870.3 617.0,869.8 618.0,869.4 619.0,868.9 620.0,868.5 621.0,868.1 622.0,867.8 623.0,867.3 624.0,866.9 625.0,866.5 626.0,866.2 627.0,866.0 628.0,865.8 629.0,865.8 630.0,865.8 631.0,865.9 632.0,866.1 633.0,866.3 634.0,866.6 635.0,866.8 636.0,867.0 637.0,867.3 638.0,867.5 639.0,867.7 640.0,867.8 641.0,867.9 642.0,868.0 643.0,868.1 644.0,868.3 645.0,868.4 646.0,868.6 647.0,868.8 648.0,869.0 649.0,869.2 650.0,869.3 651.0,869.4 652.0,869.5 653.0,869.5 654.0,869.6 655.0,869.7 656.0,869.8 657.0,870.1 658.0,870.4 659.0,870.7 660.0,871.1 661.0,871.4 662.0,871.6 663.0,871.8 664.0,871.9 665.0,872.0 666.0,872.0 667.0,872.1 668.0,872.2 669.0,872.4 670.0,872.7 671.0,873.1 672.0,873.5 673.0,873.8 674.0,873.9 675.0,873.9 676.0,873.8 677.0,873.7 678.0,873.5 679.0,873.4 680.0,873.4 681.0,873.4 682.0,873.4 683.0,873.4 684.0,873.5 685.0,873.5 686.0,873.5 687.0,873.6 688.0,873.7 689.0,873.9 690.0,874.0 691.0,874.1 692.0,874.2 693.0,874.1 694.0,874.0 695.0,873.9 696.0,873.7 697.0,873.5 698.0,873.4 699.0,873.2 700.0,873.0 701.0,872.8 702.0,872.6 703.0,872.5 704.0,872.3 705.0,872.2 706.0,872.0 707.0,871.8 708.0,871.7 709.0,871.5 710.0,871.3 711.0,871.1 712.0,870.8 713.0,870.5 714.0,870.1 715.0,869.6 716.0,869.1 717.0,868.5 718.0,867.9 719.0,867.2 720.0,866.2 721.0,865.0 722.0,863.5 723.0,861.8 724.0,860.1 725.0,858.3 726.0,856.4 727.0,854.3 728.0,851.9 729.0,849.2 730.0,846.1 731.0,842.1 732.0,837.3 733.0,832.0 734.0,826.1 735.0,819.4 736.0,811.8 737.0,803.5 738.0,794.0 739.0,783.6 740.0,772.7 741.0,761.5 742.0,749.3 743.0,735.5 744.0,719.5 745.0,704.8 746.0,690.5 747.0,676.4 748.0,661.9 749.0,646.6 750.0,631.7 751.0,618.8 752.0,609.1 753.0,600.8 754.0,590.4 755.0,577.3 756.0,565.3 757.0,554.7 758.0,546.1 759.0,539.4 760.0,535.9 761.0,534.8 762.0,537.1 763.0,540.0 764.0,543.2 765.0,546.8 766.0,550.9 767.0,555.6 768.0,560.7 769.0,566.3 770.0,572.3 771.0,579.2 772.0,586.7 773.0,594.3 774.0,601.8 775.0,609.5 776.0,617.7 777.0,626.5 778.0,635.9 779.0,645.6 780.0,655.3 781.0,664.8 782.0,673.7 783.0,682.2 784.0,690.5 785.0,698.8 786.0,707.1 787.0,715.7 788.0,724.7 789.0,734.4 790.0,743.6 791.0,752.5 792.0,761.1 793.0,768.9 794.0,775.7 795.0,781.8 796.0,787.5 797.0,792.8 798.0,797.8 799.0,802.5 800.0,807.0 801.0,811.3 802.0,815.4 803.0,819.3 804.0,823.0 805.0,826.5 806.0,829.7 807.0,832.7 808.0,835.5 809.0,838.1 810.0,840.6 811.0,843.0 812.0,845.2 813.0,847.2 814.0,849.1 815.0,850.9 816.0,852.6 817.0,854.3 818.0,855.8 819.0,857.2 820.0,858.4 821.0,859.5 822.0,860.5 823.0,861.5 824.0,862.4 825.0,863.3 826.0,864.2 827.0,865.1 828.0,865.9 829.0,866.7 830.0,867.4 831.0,867.9 832.0,868.4 833.0,868.9 834.0,869.3 835.0,869.7 836.0,870.1 837.0,870.5 838.0,870.9 839.0,871.2 840.0,871.6 841.0,871.9 842.0,872.2 843.0,872.6 844.0,873.0 845.0,873.5 846.0,874.0 847.0,874.5 848.0,874.9 849.0,875.1 850.0,875.4 851.0,875.6 852.0,875.8 853.0,875.9 854.0,875.9 855.0,875.8 856.0,875.5 857.0,875.2 858.0,874.8 859.0,874.6 860.0,874.5 861.0,874.5 862.0,874.5 863.0,874.6 864.0,874.7 865.0,874.8 866.0,874.8 867.0,874.9 868.0,874.9 869.0,875.0 870.0,875.0 871.0,875.1 872.0,875.2 873.0,875.2 874.0,875.3 875.0,875.4 876.0,875.5 877.0,875.6 878.0,875.6 879.0,875.5 880.0,875.2 881.0,874.9 882.0,874.6 883.0,874.4 884.0,874.3 885.0,874.3 886.0,874.3 887.0,874.4 888.0,874.4 889.0,874.4 890.0,874.5 891.0,874.6 892.0,874.7 893.0,874.9 894.0,875.1 895.0,875.2 896.0,875.3 897.0,875.2 898.0,875.1 899.0,874.9 900.0,874.8 901.0,874.6 902.0,874.6 903.0,874.6 904.0,874.7 905.0,874.8 906.0,874.8 907.0,874.9 908.0,874.9 909.0,874.9 910.0,874.9 911.0,874.9 912.0,874.9 913.0,874.8 914.0,874.8 915.0,874.7 916.0,874.5 917.0,874.2 918.0,873.9 919.0,873.7 920.0,873.6 921.0,873.6 922.0,873.6 923.0,873.7 924.0,873.7 925.0,873.7 926.0,873.8 927.0,873.7 928.0,873.4 929.0,873.1 930.0,872.8 931.0,872.6 932.0,872.5 933.0,872.6 934.0,872.8 935.0,873.1 936.0,873.5 937.0,873.9 938.0,874.1 939.0,874.4 940.0,874.6 941.0,874.8 942.0,875.0 943.0,875.2 944.0,875.2 945.0,875.1 946.0,874.8 947.0,874.3 948.0,873.9 949.0,873.6 950.0,873.5 951.0,873.6 952.0,873.9 953.0,874.3 954.0,874.7 955.0,875.0 956.0,875.1 957.0,875.1 958.0,875.0 959.0,875.0 960.0,875.0 961.0,874.9 962.0,874.9 963.0,874.8 964.0,874.6 965.0,874.5 966.0,874.3 967.0,874.2 968.0,874.1 969.0,874.1 970.0,874.1 971.0,874.1 972.0,874.1 973.0,874.1 974.0,874.1 975.0,874.1 976.0,874.1 977.0,874.1 978.0,874.1 979.0,874.2 980.0,874.2 981.0,874.1 982.0,874.0 983.0,873.8 984.0,873.6 985.0,873.5 986.0,873.5 987.0,873.5 988.0,873.5 989.0,873.6 990.0,873.7 991.0,873.8 992.0,873.8 993.0,873.9 994.0,873.9 995.0,873.9 996.0,873.9 997.0,873.9 998.0,874.0 999.0,874.0 1000.0,874.1 1001.0,874.2 1002.0,874.3 1003.0,874.4 1004.0,874.4 1005.0,874.4 1006.0,874.5 1007.0,874.5 1008.0,874.5 1009.0,874.5 1010.0,874.5 1011.0,874.4 1012.0,874.2 1013.0,874.0 1014.0,873.7 1015.0,873.5 1016.0,873.4 1017.0,873.5 1018.0,873.7 1019.0,874.0 1020.0,874.2 1021.0,874.4 1022.0,874.5 1023.0,874.4 1024.0,874.2 1025.0,873.9 1026.0,873.7 1027.0,873.4 1028.0,873.4 1029.0,873.4 1030.0,873.4 1031.0,873.5 1032.0,873.6 1033.0,873.7 1034.0,873.8 1035.0,873.8 1036.0,873.9 1037.0,874.0 1038.0,874.1 1039.0,874.1 1040.0,874.1 1041.0,874.1 1042.0,874.1 1043.0,874.0 1044.0,873.9 1045.0,873.9 1046.0,873.8 1047.0,873.8 1048.0,873.8 1049.0,873.8 1050.0,873.8 1051.0,873.7 1052.0,873.7 1053.0,873.8 1054.0,873.8 1055.0,873.9 1056.0,873.9 1057.0,874.0 1058.0,874.0 1059.0,874.0 1060.0,873.8 1061.0,873.7 1062.0,873.6 1063.0,873.5 1064.0,873.4 1065.0,873.4 1066.0,873.4 1067.0,873.3 1068.0,873.3 1069.0,873.3 1070.0,873.3 1071.0,873.3 1072.0,873.3 1073.0,873.4 1074.0,873.5 1075.0,873.5 1076.0,873.6 1077.0,873.7 1078.0,873.9 1079.0,874.0 1080.0,874.2 1081.0,874.3 1082.0,874.4 1083.0,874.3 1084.0,874.2 1085.0,874.0 1086.0,873.8 1087.0,873.7 1088.0,873.6 1089.0,873.7 1090.0,874.0 1091.0,874.3 1092.0,874.6 1093.0,874.9 1094.0,875.0 1095.0,874.9 1096.0,874.8 1097.0,874.6 1098.0,874.3 1099.0,874.0 1100.0,873.7 1101.0,873.4 1102.0,872.9 1103.0,872.4 1104.0,872.0 1105.0,871.6 1106.0,871.5 1107.0,871.6 1108.0,871.8 1109.0,872.1 1110.0,872.5 1111.0,872.9 1112.0,873.2 1113.0,873.5 1114.0,873.8 1115.0,874.1 1116.0,874.4 1117.0,874.6 1118.0,874.6 1119.0,874.5 1120.0,874.3 1121.0,874.0 1122.0,873.8 1123.0,873.5 1124.0,873.4 1125.0,873.3 1126.0,873.2 1127.0,873.1 1128.0,873.0 1129.0,873.0 1130.0,872.9 1131.0,872.8 1132.0,872.6 1133.0,872.4 1134.0,872.0 1135.0,871.5 1136.0,870.9 1137.0,870.2 1138.0,869.5 1139.0,868.6 1140.0,867.7 1141.0,866.6 1142.0,865.5 1143.0,864.3 1144.0,863.0 1145.0,861.2 1146.0,858.7 1147.0,855.5 1148.0,851.7 1149.0,847.4 1150.0,842.6 1151.0,836.3 1152.0,828.3 1153.0,819.0 1154.0,808.7 1155.0,797.6 1156.0,784.2 1157.0,769.1 1158.0,753.3 1159.0,737.5 1160.0,721.0 1161.0,703.9 1162.0,686.6 1163.0,669.3 1164.0,652.3 1165.0,635.8 1166.0,619.2 1167.0,601.8 1168.0,583.3 1169.0,562.0 1170.0,539.6 1171.0,520.1 1172.0,502.7 1173.0,487.5 1174.0,474.3 1175.0,464.1 1176.0,457.4 1177.0,452.5 1178.0,450.2 1179.0,449.3 1180.0,450.8 1181.0,453.5 1182.0,458.0 1183.0,464.3 1184.0,474.4 1185.0,483.8 1186.0,493.5 1187.0,504.4 1188.0,514.9 1189.0,524.7 1190.0,535.8 1191.0,549.6 1192.0,564.8 1193.0,579.9 1194.0,594.3 1195.0,608.9 1196.0,623.3 1197.0,637.7 1198.0,651.7 1199.0,665.5 1200.0,679.1 1201.0,692.7 1202.0,706.1 1203.0,719.2 1204.0,731.7 1205.0,743.6 1206.0,754.9 1207.0,766.1 1208.0,776.8 1209.0,786.9 1210.0,795.9 1211.0,803.6 1212.0,810.7 1213.0,817.3 1214.0,823.5 1215.0,829.2 1216.0,834.4 1217.0,839.0 1218.0,842.9 1219.0,846.2 1220.0,849.3 1221.0,852.1 1222.0,854.6 1223.0,856.8 1224.0,858.8 1225.0,860.5 1226.0,862.1 1227.0,863.5 1228.0,864.8 1229.0,866.0 1230.0,866.9 1231.0,867.5 1232.0,868.0 1233.0,868.4 1234.0,868.9 1235.0,869.2 1236.0,869.5 1237.0,869.8 1238.0,869.9 1239.0,870.0 1240.0,870.1 1241.0,870.2 1242.0,870.2 1243.0,870.1 1244.0,869.9 1245.0,869.7 1246.0,869.3 1247.0,868.8 1248.0,868.4 1249.0,868.0 1250.0,867.6 1251.0,867.3 1252.0,867.1 1253.0,866.9 1254.0,866.8 1255.0,866.6 1256.0,866.3 1257.0,866.0 1258.0,865.6 1259.0,865.2 1260.0,864.7 1261.0,864.3 1262.0,863.9 1263.0,863.5 1264.0,863.1 1265.0,862.7 1266.0,862.3 1267.0,861.9 1268.0,861.6 1269.0,861.3 1270.0,861.0 1271.0,860.6 1272.0,860.4 1273.0,860.2 1274.0,860.1 1275.0,860.0 1276.0,859.9 1277.0,859.9 1278.0,859.8 1279.0,859.8 1280.0,859.8 1281.0,859.9 1282.0,860.2 1283.0,860.6 1284.0,860.9 1285.0,861.3 1286.0,861.6 1287.0,861.9 1288.0,862.2 1289.0,862.5 1290.0,862.9 1291.0,863.2 1292.0,863.6 1293.0,863.9 1294.0,864.2 1295.0,864.4 1296.0,864.7 1297.0,865.0 1298.0,865.3 1299.0,865.7 1300.0,866.0 1301.0,866.4 1302.0,866.8 1303.0,867.1 1304.0,867.4 1305.0,867.7 1306.0,867.9 1307.0,868.1 1308.0,868.3 1309.0,868.5 1310.0,868.7 1311.0,869.0 1312.0,869.4 1313.0,869.8 1314.0,870.2 1315.0,870.6 1316.0,871.0 1317.0,871.3 1318.0,871.6 1319.0,872.0 1320.0,872.3 1321.0,872.5 1322.0,872.8 1323.0,872.9 1324.0,872.7 1325.0,872.5 1326.0,872.2 1327.0,872.0 1328.0,872.0 1329.0,872.3 1330.0,872.7 1331.0,873.2 1332.0,873.8" stroke="#ff00ff" stroke-width="3.6"/>
<path d="M110.0,876.0 111.0,875.9 112.0,875.9 113.0,875.8 114.0,875.8 115.0,875.8 116.0,875.8 117.0,875.8 118.0,875.9 119.0,875.9 120.0,876.0 121.0,876.1 122.0,876.1 123.0,876.2 124.0,876.2 125.0,876.2 126.0,876.3 127.0,876.3 128.0,876.3 129.0,876.4 130.0,876.4 131.0,876.5 132.0,876.5 133.0,876.5 134.0,876.5 135.0,876.5 136.0,876.5 137.0,876.4 138.0,876.3 139.0,876.3 140.0,876.2 141.0,876.2 142.0,876.1 143.0,876.1 144.0,876.1 145.0,876.0 146.0,876.0 147.0,876.0 148.0,876.0 149.0,876.0 150.0,875.9 151.0,875.9 152.0,875.9 153.0,876.0 154.0,876.0 155.0,876.1 156.0,876.2 157.0,876.3 158.0,876.4 159.0,876.4 160.0,876.5 161.0,876.6 162.0,876.6 163.0,876.6 164.0,876.6 165.0,876.6 166.0,876.6 167.0,876.5 168.0,876.4 169.0,876.3 170.0,876.2 171.0,876.1 172.0,876.0 173.0,875.9 174.0,875.8 175.0,875.8 176.0,875.7 177.0,875.8 178.0,875.8 179.0,875.8 180.0,875.8 181.0,875.8 182.0,875.8 183.0,875.9 184.0,876.0 185.0,876.2 186.0,876.4 187.0,876.5 188.0,876.6 189.0,876.5 190.0,876.5 191.0,876.4 192.0,876.3 193.0,876.2 194.0,876.1 195.0,876.0 196.0,875.9 197.0,875.8 198.0,875.7 199.0,875.6 200.0,875.5 201.0,875.6 202.0,875.7 203.0,875.8 204.0,875.9 205.0,876.0 206.0,876.0 207.0,876.0 208.0,875.9 209.0,875.8 210.0,875.8 211.0,875.7 212.0,875.7 213.0,875.7 214.0,875.7 215.0,875.7 216.0,875.8 217.0,875.8 218.0,875.8 219.0,875.8 220.0,875.8 221.0,875.8 222.0,875.8 223.0,875.8 224.0,875.8 225.0,875.8 226.0,875.8 227.0,875.8 228.0,875.8 229.0,875.7 230.0,875.7 231.0,875.8 232.0,875.8 233.0,875.9 234.0,876.0 235.0,876.1 236.0,876.1 237.0,876.1 238.0,876.0 239.0,876.0 240.0,876.0 241.0,875.9 242.0,875.9 243.0,875.8 244.0,875.8 245.0,875.8 246.0,875.7 247.0,875.7 248.0,875.7 249.0,875.7 250.0,875.7 251.0,875.8 252.0,875.9 253.0,875.9 254.0,876.0 255.0,876.0 256.0,876.0 257.0,876.0 258.0,876.1 259.0,876.1 260.0,876.1 261.0,876.0 262.0,875.9 263.0,875.7 264.0,875.5 265.0,875.4 266.0,875.3 267.0,875.3 268.0,875.4 269.0,875.5 270.0,875.6 271.0,875.7 272.0,875.7 273.0,875.7 274.0,875.6 275.0,875.6 276.0,875.5 277.0,875.4 278.0,875.4 279.0,875.4 280.0,875.5 281.0,875.5 282.0,875.6 283.0,875.6 284.0,875.6 285.0,875.6 286.0,875.5 287.0,875.5 288.0,875.4 289.0,875.3 290.0,875.3 291.0,875.3 292.0,875.4 293.0,875.4 294.0,875.5 295.0,875.6 296.0,875.6 297.0,875.6 298.0,875.6 299.0,875.6 300.0,875.6 301.0,875.6 302.0,875.6 303.0,875.6 304.0,875.5 305.0,875.5 306.0,875.5 307.0,875.5 308.0,875.4 309.0,875.4 310.0,875.4 311.0,875.3 312.0,875.2 313.0,875.2 314.0,875.2 315.0,875.2 316.0,875.2 317.0,875.2 318.0,875.2 319.0,875.3 320.0,875.3 321.0,875.2 322.0,875.2 323.0,875.1 324.0,875.1 325.0,875.0 326.0,875.0 327.0,874.9 328.0,874.9 329.0,874.9 330.0,874.8 331.0,874.8 332.0,874.8 333.0,874.8 334.0,874.9 335.0,875.0 336.0,875.1 337.0,875.1 338.0,875.1 339.0,875.1 340.0,875.0 341.0,874.9 342.0,874.8 343.0,874.7 344.0,874.6 345.0,874.6 346.0,874.8 347.0,874.9 348.0,875.0 349.0,875.1 350.0,875.2 351.0,875.1 352.0,875.1 353.0,875.1 354.0,875.0 355.0,875.0 356.0,874.9 357.0,874.8 358.0,874.6 359.0,874.4 360.0,874.2 361.0,874.0 362.0,874.0 363.0,874.0 364.0,874.1 365.0,874.2 366.0,874.4 367.0,874.5 368.0,874.5 369.0,874.5 370.0,874.4 371.0,874.2 372.0,874.1 373.0,874.0 374.0,874.0 375.0,874.0 376.0,874.0 377.0,874.1 378.0,874.1 379.0,874.2 380.0,874.2 381.0,874.2 382.0,874.1 383.0,874.1 384.0,874.1 385.0,874.1 386.0,874.1 387.0,874.0 388.0,873.9 389.0,873.7 390.0,873.5 391.0,873.4 392.0,873.3 393.0,873.4 394.0,873.4 395.0,873.6 396.0,873.7 397.0,873.7 398.0,873.8 399.0,873.7 400.0,873.7 401.0,873.7 402.0,873.7 403.0,873.7 404.0,873.7 405.0,873.7 406.0,873.7 407.0,873.8 408.0,873.9 409.0,873.9 410.0,873.9 411.0,873.9 412.0,873.7 413.0,873.6 414.0,873.4 415.0,873.2 416.0,873.2 417.0,873.2 418.0,873.3 419.0,873.4 420.0,873.5 421.0,873.6 422.0,873.7 423.0,873.6 424.0,873.5 425.0,873.3 426.0,873.2 427.0,873.1 428.0,873.0 429.0,873.0 430.0,873.0 431.0,873.1 432.0,873.1 433.0,873.1 434.0,873.1 435.0,873.1 436.0,873.0 437.0,873.0 438.0,872.9 439.0,872.9 440.0,872.9 441.0,872.9 442.0,873.0 443.0,873.2 444.0,873.3 445.0,873.4 446.0,873.4 447.0,873.4 448.0,873.3 449.0,873.3 450.0,873.2 451.0,873.1 452.0,873.1 453.0,873.1 454.0,873.2 455.0,873.3 456.0,873.4 457.0,873.5 458.0,873.6 459.0,873.5 460.0,873.4 461.0,873.2 462.0,873.1 463.0,873.0 464.0,872.9 465.0,872.9 466.0,872.9 467.0,872.9 468.0,872.9 469.0,872.9 470.0,872.9 471.0,872.9 472.0,872.9 473.0,872.9 474.0,872.9 475.0,872.9 476.0,872.8 477.0,872.8 478.0,872.7 479.0,872.6 480.0,872.5 481.0,872.4 482.0,872.3 483.0,872.3 484.0,872.3 485.0,872.4 486.0,872.4 487.0,872.4 488.0,872.4 489.0,872.5 490.0,872.6 491.0,872.7 492.0,872.8 493.0,872.8 494.0,872.8 495.0,872.8 496.0,872.7 497.0,872.6 498.0,872.4 499.0,872.3 500.0,872.3 501.0,872.3 502.0,872.3 503.0,872.4 504.0,872.4 505.0,872.4 506.0,872.4 507.0,872.4 508.0,872.4 509.0,872.4 510.0,872.4 511.0,872.4 512.0,872.4 513.0,872.4 514.0,872.4 515.0,872.4 516.0,872.5 517.0,872.5 518.0,872.5 519.0,872.5 520.0,872.5 521.0,872.4 522.0,872.3 523.0,872.3 524.0,872.2 525.0,872.2 526.0,872.2 527.0,872.2 528.0,872.3 529.0,872.3 530.0,872.3 531.0,872.3 532.0,872.3 533.0,872.4 534.0,872.4 535.0,872.4 536.0,872.4 537.0,872.4 538.0,872.4 539.0,872.4 540.0,872.4 541.0,872.4 542.0,872.3 543.0,872.3 544.0,872.3 545.0,872.2 546.0,872.1 547.0,872.1 548.0,872.1 549.0,872.1 550.0,872.2 551.0,872.3 552.0,872.4 553.0,872.5 554.0,872.6 555.0,872.5 556.0,872.4 557.0,872.2 558.0,872.1 559.0,872.0 560.0,871.9 561.0,871.9 562.0,871.9 563.0,871.9 564.0,871.9 565.0,871.9 566.0,871.9 567.0,871.9 568.0,871.9 569.0,871.9 570.0,871.9 571.0,871.9 572.0,871.9 573.0,871.9 574.0,872.1 575.0,872.2 576.0,872.4 577.0,872.5 578.0,872.5 579.0,872.5 580.0,872.4 581.0,872.4 582.0,872.3 583.0,872.2 584.0,872.1 585.0,872.1 586.0,872.0 587.0,872.0 588.0,872.0 589.0,871.9 590.0,871.9 591.0,871.9 592.0,871.9 593.0,871.8 594.0,871.8 595.0,871.8 596.0,871.8 597.0,871.8 598.0,871.8 599.0,871.9 600.0,872.0 601.0,872.0 602.0,872.0 603.0,872.0 604.0,871.8 605.0,871.7 606.0,871.5 607.0,871.4 608.0,871.3 609.0,871.2 610.0,871.1 611.0,870.9 612.0,870.7 613.0,870.5 614.0,870.2 615.0,869.9 616.0,869.6 617.0,869.3 618.0,869.0 619.0,868.7 620.0,868.3 621.0,867.9 622.0,867.5 623.0,867.1 624.0,866.6 625.0,866.2 626.0,865.7 627.0,865.2 628.0,864.7 629.0,864.2 630.0,863.7 631.0,863.2 632.0,862.7 633.0,862.2 634.0,861.6 635.0,861.1 636.0,860.5 637.0,860.0 638.0,859.5 639.0,859.0 640.0,858.5 641.0,858.0 642.0,857.5 643.0,857.0 644.0,856.5 645.0,855.9 646.0,855.4 647.0,854.9 648.0,854.4 649.0,854.0 650.0,853.5 651.0,853.1 652.0,852.7 653.0,852.3 654.0,852.0 655.0,851.7 656.0,851.4 657.0,851.0 658.0,850.6 659.0,850.2 660.0,849.8 661.0,849.5 662.0,849.2 663.0,849.0 664.0,849.0 665.0,849.0 666.0,849.2 667.0,849.4 668.0,849.6 669.0,850.0 670.0,850.3 671.0,850.6 672.0,851.0 673.0,851.4 674.0,851.7 675.0,852.2 676.0,852.7 677.0,853.3 678.0,853.9 679.0,854.6 680.0,855.2 681.0,855.9 682.0,856.5 683.0,857.2 684.0,857.8 685.0,858.4 686.0,859.0 687.0,859.5 688.0,860.1 689.0,860.7 690.0,861.2 691.0,861.8 692.0,862.3 693.0,862.9 694.0,863.4 695.0,863.9 696.0,864.4 697.0,864.8 698.0,865.3 699.0,865.7 700.0,866.1 701.0,866.4 702.0,866.8 703.0,867.2 704.0,867.7 705.0,868.0 706.0,868.4 707.0,868.8 708.0,869.1 709.0,869.4 710.0,869.7 711.0,869.9 712.0,870.1 713.0,870.3 714.0,870.4 715.0,870.4 716.0,870.5 717.0,870.5 718.0,870.6 719.0,870.6 720.0,870.7 721.0,870.7 722.0,870.8 723.0,870.8 724.0,870.7 725.0,870.7 726.0,870.7 727.0,870.7 728.0,870.7 729.0,870.7 730.0,870.7 731.0,870.7 732.0,870.8 733.0,870.8 734.0,870.8 735.0,870.9 736.0,870.9 737.0,870.8 738.0,870.5 739.0,870.1 740.0,869.6 741.0,869.0 742.0,868.4 743.0,867.8 744.0,867.1 745.0,866.4 746.0,865.7 747.0,864.8 748.0,863.8 749.0,862.7 750.0,861.3 751.0,859.8 752.0,858.0 753.0,855.6 754.0,852.6 755.0,849.2 756.0,845.5 757.0,841.3 758.0,836.4 759.0,830.9 760.0,824.1 761.0,816.2 762.0,807.8 763.0,799.4 764.0,790.8 765.0,781.5 766.0,771.0 767.0,759.2 768.0,746.8 769.0,734.5 770.0,723.1 771.0,713.0 772.0,703.5 773.0,694.4 774.0,685.6 775.0,677.0 776.0,669.4 777.0,663.9 778.0,659.2 779.0,655.2 780.0,651.7 781.0,648.9 782.0,647.6 783.0,646.9 784.0,647.0 785.0,647.8 786.0,649.1 787.0,650.9 788.0,653.5 789.0,657.0 790.0,661.5 791.0,666.4 792.0,671.2 793.0,676.1 794.0,681.2 795.0,686.6 796.0,692.1 797.0,698.2 798.0,705.9 799.0,714.6 800.0,722.5 801.0,729.7 802.0,736.8 803.0,743.8 804.0,750.5 805.0,757.0 806.0,763.1 807.0,768.9 808.0,774.2 809.0,779.0 810.0,783.4 811.0,787.3 812.0,790.9 813.0,794.2 814.0,797.5 815.0,800.8 816.0,804.3 817.0,808.0 818.0,812.0 819.0,816.1 820.0,820.1 821.0,824.1 822.0,827.7 823.0,830.9 824.0,833.7 825.0,836.4 826.0,838.9 827.0,841.3 828.0,843.5 829.0,845.5 830.0,847.4 831.0,849.2 832.0,850.9 833.0,852.5 834.0,854.0 835.0,855.5 836.0,856.8 837.0,857.9 838.0,859.0 839.0,859.9 840.0,860.8 841.0,861.6 842.0,862.3 843.0,863.0 844.0,863.6 845.0,864.2 846.0,864.8 847.0,865.3 848.0,865.8 849.0,866.3 850.0,866.8 851.0,867.2 852.0,867.6 853.0,868.0 854.0,868.4 855.0,868.8 856.0,869.1 857.0,869.5 858.0,869.8 859.0,870.0 860.0,870.3 861.0,870.5 862.0,870.8 863.0,871.1 864.0,871.3 865.0,871.6 866.0,871.8 867.0,872.0 868.0,872.3 869.0,872.5 870.0,872.6 871.0,872.8 872.0,873.0 873.0,873.1 874.0,873.2 875.0,873.3 876.0,873.4 877.0,873.5 878.0,873.6 879.0,873.7 880.0,873.9 881.0,874.0 882.0,874.2 883.0,874.4 884.0,874.5 885.0,874.7 886.0,874.8 887.0,875.0 888.0,875.2 889.0,875.3 890.0,875.4 891.0,875.5 892.0,875.6 893.0,875.7 894.0,875.7 895.0,875.8 896.0,875.9 897.0,875.9 898.0,876.0 899.0,876.1 900.0,876.2 901.0,876.3 902.0,876.3 903.0,876.4 904.0,876.4 905.0,876.4 906.0,876.4 907.0,876.4 908.0,876.4 909.0,876.4 910.0,876.5 911.0,876.5 912.0,876.5 913.0,876.6 914.0,876.6 915.0,876.6 916.0,876.7 917.0,876.9 918.0,877.0 919.0,877.1 920.0,877.1 921.0,877.1 922.0,877.1 923.0,877.0 924.0,877.0 925.0,876.9 926.0,876.9 927.0,876.8 928.0,876.8 929.0,876.8 930.0,876.8 931.0,876.8 932.0,876.8 933.0,876.8 934.0,876.9 935.0,876.9 936.0,877.0 937.0,877.0 938.0,877.0 939.0,877.0 940.0,876.9 941.0,876.8 942.0,876.7 943.0,876.6 944.0,876.5 945.0,876.5 946.0,876.6 947.0,876.6 948.0,876.6 949.0,876.7 950.0,876.7 951.0,876.8 952.0,876.8 953.0,876.9 954.0,877.0 955.0,877.0 956.0,877.1 957.0,877.1 958.0,877.1 959.0,877.0 960.0,877.0 961.0,877.0 962.0,877.0 963.0,877.0 964.0,877.1 965.0,877.2 966.0,877.2 967.0,877.3 968.0,877.3 969.0,877.3 970.0,877.2 971.0,877.1 972.0,877.0 973.0,876.9 974.0,876.8 975.0,876.8 976.0,876.7 977.0,876.6 978.0,876.5 979.0,876.4 980.0,876.4 981.0,876.5 982.0,876.7 983.0,876.9 984.0,877.2 985.0,877.3 986.0,877.3 987.0,877.3 988.0,877.3 989.0,877.3 990.0,877.3 991.0,877.2 992.0,877.2 993.0,877.1 994.0,877.0 995.0,876.8 996.0,876.7 997.0,876.6 998.0,876.5 999.0,876.6 1000.0,876.7 1001.0,876.9 1002.0,877.1 1003.0,877.2 1004.0,877.3 1005.0,877.3 1006.0,877.2 1007.0,877.1 1008.0,877.1 1009.0,877.0 1010.0,876.9 1011.0,876.8 1012.0,876.7 1013.0,876.6 1014.0,876.4 1015.0,876.4 1016.0,876.3 1017.0,876.4 1018.0,876.4 1019.0,876.5 1020.0,876.6 1021.0,876.7 1022.0,876.8 1023.0,876.8 1024.0,876.7 1025.0,876.7 1026.0,876.7 1027.0,876.7 1028.0,876.7 1029.0,876.8 1030.0,876.9 1031.0,877.0 1032.0,877.2 1033.0,877.3 1034.0,877.3 1035.0,877.3 1036.0,877.2 1037.0,877.0 1038.0,876.8 1039.0,876.7 1040.0,876.7 1041.0,876.7 1042.0,876.7 1043.0,876.7 1044.0,876.8 1045.0,876.8 1046.0,876.8 1047.0,876.8 1048.0,876.8 1049.0,876.8 1050.0,876.8 1051.0,876.8 1052.0,876.8 1053.0,876.8 1054.0,876.8 1055.0,876.8 1056.0,876.8 1057.0,876.8 1058.0,876.8 1059.0,876.8 1060.0,876.7 1061.0,876.7 1062.0,876.7 1063.0,876.6 1064.0,876.6 1065.0,876.6 1066.0,876.7 1067.0,876.8 1068.0,876.8 1069.0,876.9 1070.0,877.0 1071.0,877.0 1072.0,877.1 1073.0,877.1 1074.0,877.2 1075.0,877.2 1076.0,877.2 1077.0,877.2 1078.0,877.2 1079.0,877.2 1080.0,877.2 1081.0,877.1 1082.0,877.1 1083.0,877.0 1084.0,876.9 1085.0,876.8 1086.0,876.7 1087.0,876.7 1088.0,876.6 1089.0,876.6 1090.0,876.6 1091.0,876.6 1092.0,876.6 1093.0,876.6 1094.0,876.6 1095.0,876.6 1096.0,876.7 1097.0,876.7 1098.0,876.8 1099.0,876.9 1100.0,876.9 1101.0,876.9 1102.0,876.9 1103.0,876.8 1104.0,876.8 1105.0,876.7 1106.0,876.7 1107.0,876.7 1108.0,876.7 1109.0,876.7 1110.0,876.7 1111.0,876.7 1112.0,876.7 1113.0,876.7 1114.0,876.6 1115.0,876.6 1116.0,876.5 1117.0,876.4 1118.0,876.4 1119.0,876.5 1120.0,876.7 1121.0,876.9 1122.0,877.2 1123.0,877.3 1124.0,877.3 1125.0,877.3 1126.0,877.3 1127.0,877.3 1128.0,877.3 1129.0,877.2 1130.0,877.2 1131.0,877.1 1132.0,877.0 1133.0,876.8 1134.0,876.7 1135.0,876.6 1136.0,876.6 1137.0,876.6 1138.0,876.7 1139.0,876.9 1140.0,877.0 1141.0,877.1 1142.0,877.2 1143.0,877.2 1144.0,877.2 1145.0,877.3 1146.0,877.3 1147.0,877.3 1148.0,877.3 1149.0,877.2 1150.0,877.0 1151.0,876.7 1152.0,876.5 1153.0,876.3 1154.0,876.2 1155.0,876.2 1156.0,876.3 1157.0,876.4 1158.0,876.6 1159.0,876.7 1160.0,876.7 1161.0,876.7 1162.0,876.8 1163.0,876.8 1164.0,876.8 1165.0,876.8 1166.0,876.8 1167.0,876.8 1168.0,876.9 1169.0,876.9 1170.0,877.0 1171.0,877.1 1172.0,877.1 1173.0,877.1 1174.0,877.0 1175.0,877.0 1176.0,876.9 1177.0,876.9 1178.0,876.9 1179.0,876.9 1180.0,876.8 1181.0,876.8 1182.0,876.8 1183.0,876.8 1184.0,876.8 1185.0,876.8 1186.0,876.8 1187.0,876.8 1188.0,876.9 1189.0,876.9 1190.0,876.9 1191.0,876.9 1192.0,877.0 1193.0,877.2 1194.0,877.3 1195.0,877.3 1196.0,877.3 1197.0,877.3 1198.0,877.3 1199.0,877.3 1200.0,877.3 1201.0,877.3 1202.0,877.3 1203.0,877.3 1204.0,877.3 1205.0,877.2 1206.0,877.0 1207.0,876.8 1208.0,876.7 1209.0,876.7 1210.0,876.7 1211.0,876.7 1212.0,876.6 1213.0,876.6 1214.0,876.6 1215.0,876.7 1216.0,876.9 1217.0,877.2 1218.0,877.3 1219.0,877.3 1220.0,877.3 1221.0,877.3 1222.0,877.3 1223.0,877.2 1224.0,876.9 1225.0,876.7 1226.0,876.6 1227.0,876.6 1228.0,876.6 1229.0,876.6 1230.0,876.7 1231.0,876.7 1232.0,876.7 1233.0,876.8 1234.0,876.8 1235.0,876.8 1236.0,876.9 1237.0,876.9 1238.0,876.9 1239.0,876.9 1240.0,877.0 1241.0,877.0 1242.0,877.0 1243.0,877.0 1244.0,877.0 1245.0,877.1 1246.0,877.1 1247.0,877.1 1248.0,877.2 1249.0,877.2 1250.0,877.2 1251.0,877.2 1252.0,877.2 1253.0,877.1 1254.0,877.1 1255.0,877.1 1256.0,877.0 1257.0,877.0 1258.0,876.9 1259.0,876.8 1260.0,876.7 1261.0,876.7 1262.0,876.6 1263.0,876.7 1264.0,876.7 1265.0,876.8 1266.0,876.9 1267.0,877.0 1268.0,877.1 1269.0,877.0 1270.0,877.0 1271.0,877.0 1272.0,877.0 1273.0,877.0 1274.0,877.0 1275.0,877.0 1276.0,877.1 1277.0,877.2 1278.0,877.3 1279.0,877.3 1280.0,877.3 1281.0,877.3 1282.0,877.3 1283.0,877.2 1284.0,877.1 1285.0,877.0 1286.0,876.9 1287.0,876.8 1288.0,876.7 1289.0,876.6 1290.0,876.6 1291.0,876.5 1292.0,876.5 1293.0,876.5 1294.0,876.5 1295.0,876.5 1296.0,876.5 1297.0,876.6 1298.0,876.6 1299.0,876.7 1300.0,876.8 1301.0,877.0 1302.0,877.2 1303.0,877.3 1304.0,877.3 1305.0,877.3 1306.0,877.2 1307.0,877.1 1308.0,877.0 1309.0,876.8 1310.0,876.7 1311.0,876.6 1312.0,876.5 1313.0,876.4 1314.0,876.4 1315.0,876.3 1316.0,876.3 1317.0,876.3 1318.0,876.4 1319.0,876.5 1320.0,876.6 1321.0,876.7 1322.0,876.7 1323.0,876.8 1324.0,876.8 1325.0,876.8 1326.0,876.8 1327.0,876.9 1328.0,876.9 1329.0,877.0 1330.0,877.0 1331.0,877.1 1332.0,877.2" stroke="#33cc33" stroke-dasharray="8.1 7.2" stroke-width="3.6"/>
<path d="M110.0,875.9 111.0,876.1 112.0,876.3 113.0,876.4 114.0,876.4 115.0,876.4 116.0,876.4 117.0,876.2 118.0,875.6 119.0,874.9 120.0,874.2 121.0,873.6 122.0,873.4 123.0,873.5 124.0,873.7 125.0,874.1 126.0,874.4 127.0,874.8 128.0,875.0 129.0,875.2 130.0,875.4 131.0,875.5 132.0,875.6 133.0,875.7 134.0,875.8 135.0,875.9 136.0,875.9 137.0,876.0 138.0,876.0 139.0,876.0 140.0,876.0 141.0,876.0 142.0,875.9 143.0,875.8 144.0,875.6 145.0,875.6 146.0,875.5 147.0,875.6 148.0,875.7 149.0,875.8 150.0,875.9 151.0,876.0 152.0,876.1 153.0,876.0 154.0,875.8 155.0,875.6 156.0,875.4 157.0,875.3 158.0,875.2 159.0,875.2 160.0,875.2 161.0,875.3 162.0,875.3 163.0,875.4 164.0,875.4 165.0,875.3 166.0,875.3 167.0,875.3 168.0,875.2 169.0,875.1 170.0,875.1 171.0,875.0 172.0,874.8 173.0,874.6 174.0,874.4 175.0,874.2 176.0,874.2 177.0,874.2 178.0,874.2 179.0,874.2 180.0,874.2 181.0,874.3 182.0,874.3 183.0,874.4 184.0,874.5 185.0,874.7 186.0,874.9 187.0,875.1 188.0,875.1 189.0,875.1 190.0,874.9 191.0,874.8 192.0,874.6 193.0,874.5 194.0,874.4 195.0,874.5 196.0,874.7 197.0,875.1 198.0,875.4 199.0,875.6 200.0,875.7 201.0,875.7 202.0,875.7 203.0,875.7 204.0,875.7 205.0,875.7 206.0,875.7 207.0,875.7 208.0,875.8 209.0,875.8 210.0,875.9 211.0,876.0 212.0,876.0 213.0,875.9 214.0,875.6 215.0,875.3 216.0,875.0 217.0,874.8 218.0,874.7 219.0,874.7 220.0,874.9 221.0,875.1 222.0,875.4 223.0,875.5 224.0,875.6 225.0,875.5 226.0,875.2 227.0,874.8 228.0,874.4 229.0,874.1 230.0,874.0 231.0,874.0 232.0,874.0 233.0,874.0 234.0,874.0 235.0,874.0 236.0,874.0 237.0,874.0 238.0,874.1 239.0,874.3 240.0,874.4 241.0,874.5 242.0,874.6 243.0,874.6 244.0,874.6 245.0,874.6 246.0,874.6 247.0,874.7 248.0,874.6 249.0,874.5 250.0,874.3 251.0,874.0 252.0,873.7 253.0,873.4 254.0,873.3 255.0,873.3 256.0,873.2 257.0,873.2 258.0,873.2 259.0,873.2 260.0,873.2 261.0,873.3 262.0,873.5 263.0,873.9 264.0,874.2 265.0,874.5 266.0,874.6 267.0,874.5 268.0,874.3 269.0,874.1 270.0,873.9 271.0,873.8 272.0,873.7 273.0,873.8 274.0,874.0 275.0,874.4 276.0,874.7 277.0,875.0 278.0,875.1 279.0,875.1 280.0,875.0 281.0,874.8 282.0,874.7 283.0,874.6 284.0,874.5 285.0,874.5 286.0,874.5 287.0,874.5 288.0,874.4 289.0,874.4 290.0,874.4 291.0,874.4 292.0,874.4 293.0,874.4 294.0,874.4 295.0,874.4 296.0,874.3 297.0,874.4 298.0,874.5 299.0,874.6 300.0,874.7 301.0,874.8 302.0,874.8 303.0,874.8 304.0,874.6 305.0,874.5 306.0,874.3 307.0,874.2 308.0,874.1 309.0,874.2 310.0,874.3 311.0,874.5 312.0,874.7 313.0,874.9 314.0,875.0 315.0,874.9 316.0,874.7 317.0,874.4 318.0,874.2 319.0,873.9 320.0,873.9 321.0,873.9 322.0,873.9 323.0,874.0 324.0,874.0 325.0,874.1 326.0,874.1 327.0,874.1 328.0,874.0 329.0,873.9 330.0,873.9 331.0,873.8 332.0,873.8 333.0,873.9 334.0,874.0 335.0,874.3 336.0,874.5 337.0,874.6 338.0,874.7 339.0,874.7 340.0,874.7 341.0,874.6 342.0,874.5 343.0,874.4 344.0,874.3 345.0,874.2 346.0,874.1 347.0,874.0 348.0,873.9 349.0,873.8 350.0,873.7 351.0,873.9 352.0,874.3 353.0,874.7 354.0,875.2 355.0,875.6 356.0,875.8 357.0,875.6 358.0,875.3 359.0,874.9 360.0,874.5 361.0,874.2 362.0,874.1 363.0,874.1 364.0,874.2 365.0,874.2 366.0,874.2 367.0,874.3 368.0,874.3 369.0,874.3 370.0,874.4 371.0,874.5 372.0,874.5 373.0,874.6 374.0,874.7 375.0,874.8 376.0,875.0 377.0,875.2 378.0,875.4 379.0,875.6 380.0,875.6 381.0,875.5 382.0,875.3 383.0,874.9 384.0,874.6 385.0,874.3 386.0,874.2 387.0,874.3 388.0,874.3 389.0,874.5 390.0,874.6 391.0,874.6 392.0,874.6 393.0,874.6 394.0,874.5 395.0,874.4 396.0,874.3 397.0,874.1 398.0,874.0 399.0,873.8 400.0,873.5 401.0,873.2 402.0,872.9 403.0,872.7 404.0,872.6 405.0,872.6 406.0,872.8 407.0,873.1 408.0,873.4 409.0,873.7 410.0,873.7 411.0,873.7 412.0,873.7 413.0,873.7 414.0,873.6 415.0,873.6 416.0,873.5 417.0,873.4 418.0,873.2 419.0,872.9 420.0,872.6 421.0,872.4 422.0,872.3 423.0,872.2 424.0,872.2 425.0,872.2 426.0,872.2 427.0,872.1 428.0,872.1 429.0,872.0 430.0,871.7 431.0,871.4 432.0,871.1 433.0,870.9 434.0,870.8 435.0,870.7 436.0,870.7 437.0,870.6 438.0,870.5 439.0,870.5 440.0,870.4 441.0,870.4 442.0,870.5 443.0,870.6 444.0,870.7 445.0,870.8 446.0,870.9 447.0,870.9 448.0,871.0 449.0,871.1 450.0,871.2 451.0,871.2 452.0,871.2 453.0,871.1 454.0,870.9 455.0,870.7 456.0,870.4 457.0,870.3 458.0,870.1 459.0,870.1 460.0,870.1 461.0,870.2 462.0,870.3 463.0,870.3 464.0,870.4 465.0,870.4 466.0,870.5 467.0,870.5 468.0,870.6 469.0,870.6 470.0,870.6 471.0,870.5 472.0,870.3 473.0,870.2 474.0,870.0 475.0,869.8 476.0,869.8 477.0,869.8 478.0,869.8 479.0,869.8 480.0,869.8 481.0,869.9 482.0,869.9 483.0,870.0 484.0,870.1 485.0,870.2 486.0,870.3 487.0,870.4 488.0,870.4 489.0,870.3 490.0,869.9 491.0,869.4 492.0,868.9 493.0,868.6 494.0,868.4 495.0,868.5 496.0,868.7 497.0,869.1 498.0,869.4 499.0,869.6 500.0,869.7 501.0,869.6 502.0,869.2 503.0,868.7 504.0,868.3 505.0,867.9 506.0,867.8 507.0,867.9 508.0,868.2 509.0,868.5 510.0,868.9 511.0,869.2 512.0,869.3 513.0,869.2 514.0,869.2 515.0,869.2 516.0,869.1 517.0,869.1 518.0,869.0 519.0,868.9 520.0,868.8 521.0,868.7 522.0,868.6 523.0,868.4 524.0,868.3 525.0,868.2 526.0,868.1 527.0,868.0 528.0,867.9 529.0,867.8 530.0,867.8 531.0,867.8 532.0,867.9 533.0,868.0 534.0,868.1 535.0,868.2 536.0,868.2 537.0,868.2 538.0,868.1 539.0,868.0 540.0,867.9 541.0,867.8 542.0,867.8 543.0,867.8 544.0,867.8 545.0,867.8 546.0,867.9 547.0,867.9 548.0,867.9 549.0,867.8 550.0,867.6 551.0,867.4 552.0,867.2 553.0,867.1 554.0,867.0 555.0,867.0 556.0,867.2 557.0,867.4 558.0,867.6 559.0,867.8 560.0,867.8 561.0,867.7 562.0,867.5 563.0,867.2 564.0,866.9 565.0,866.7 566.0,866.6 567.0,866.6 568.0,866.7 569.0,866.8 570.0,867.0 571.0,867.1 572.0,867.1 573.0,867.1 574.0,867.1 575.0,867.1 576.0,867.1 577.0,867.2 578.0,867.2 579.0,867.4 580.0,867.6 581.0,868.0 582.0,868.3 583.0,868.6 584.0,868.7 585.0,868.7 586.0,868.4 587.0,868.0 588.0,867.7 589.0,867.5 590.0,867.5 591.0,867.7 592.0,867.9 593.0,868.2 594.0,868.5 595.0,868.8 596.0,869.0 597.0,869.3 598.0,869.7 599.0,870.0 600.0,870.3 601.0,870.5 602.0,870.4 603.0,870.1 604.0,869.6 605.0,869.1 606.0,868.6 607.0,868.1 608.0,867.6 609.0,867.1 610.0,866.6 611.0,866.2 612.0,865.7 613.0,865.3 614.0,864.8 615.0,864.3 616.0,863.8 617.0,863.3 618.0,862.7 619.0,862.1 620.0,861.5 621.0,860.9 622.0,860.2 623.0,859.6 624.0,859.0 625.0,858.4 626.0,857.9 627.0,857.3 628.0,856.7 629.0,856.1 630.0,855.6 631.0,855.0 632.0,854.5 633.0,854.0 634.0,853.5 635.0,853.1 636.0,852.6 637.0,852.2 638.0,852.2 639.0,852.2 640.0,852.4 641.0,852.6 642.0,852.8 643.0,853.0 644.0,853.2 645.0,853.3 646.0,853.4 647.0,853.5 648.0,853.6 649.0,853.7 650.0,853.8 651.0,853.9 652.0,853.9 653.0,854.0 654.0,854.1 655.0,854.2 656.0,854.3 657.0,854.2 658.0,854.1 659.0,854.1 660.0,854.2 661.0,854.5 662.0,854.9 663.0,855.4 664.0,856.0 665.0,856.6 666.0,857.2 667.0,857.8 668.0,858.3 669.0,858.7 670.0,859.2 671.0,859.7 672.0,860.2 673.0,860.7 674.0,861.2 675.0,861.7 676.0,862.2 677.0,862.7 678.0,863.1 679.0,863.6 680.0,864.1 681.0,864.6 682.0,865.0 683.0,865.5 684.0,866.0 685.0,866.4 686.0,866.9 687.0,867.3 688.0,867.7 689.0,868.1 690.0,868.5 691.0,868.8 692.0,869.1 693.0,869.3 694.0,869.4 695.0,869.5 696.0,869.6 697.0,869.7 698.0,869.8 699.0,870.0 700.0,870.2 701.0,870.4 702.0,870.7 703.0,870.9 704.0,871.1 705.0,871.2 706.0,871.3 707.0,871.4 708.0,871.5 709.0,871.6 710.0,871.7 711.0,871.7 712.0,871.7 713.0,871.7 714.0,871.7 715.0,871.6 716.0,871.6 717.0,871.5 718.0,871.4 719.0,871.3 720.0,871.2 721.0,871.1 722.0,871.0 723.0,871.0 724.0,871.2 725.0,871.5 726.0,871.8 727.0,871.9 728.0,871.9 729.0,871.7 730.0,871.0 731.0,870.3 732.0,869.6 733.0,869.1 734.0,868.8 735.0,868.6 736.0,868.3 737.0,868.0 738.0,867.6 739.0,867.2 740.0,866.7 741.0,866.2 742.0,865.7 743.0,865.0 744.0,864.1 745.0,863.0 746.0,861.7 747.0,860.3 748.0,858.6 749.0,856.5 750.0,853.8 751.0,850.6 752.0,847.0 753.0,842.8 754.0,837.8 755.0,832.1 756.0,825.8 757.0,818.5 758.0,810.4 759.0,801.4 760.0,790.9 761.0,779.7 762.0,768.9 763.0,758.5 764.0,747.5 765.0,734.1 766.0,717.9 767.0,702.4 768.0,687.1 769.0,672.2 770.0,657.3 771.0,642.2 772.0,628.2 773.0,616.7 774.0,608.3 775.0,600.9 776.0,592.1 777.0,581.3 778.0,569.7 779.0,557.6 780.0,546.7 781.0,539.0 782.0,532.5 783.0,528.0 784.0,525.3 785.0,524.8 786.0,526.8 787.0,530.0 788.0,535.2 789.0,541.9 790.0,550.3 791.0,560.5 792.0,570.5 793.0,579.6 794.0,588.5 795.0,597.8 796.0,607.5 797.0,617.7 798.0,629.1 799.0,641.3 800.0,653.8 801.0,665.9 802.0,677.2 803.0,688.4 804.0,699.3 805.0,709.6 806.0,719.2 807.0,727.8 808.0,735.6 809.0,742.9 810.0,749.9 811.0,756.7 812.0,763.2 813.0,769.5 814.0,775.5 815.0,781.3 816.0,786.9 817.0,792.4 818.0,797.7 819.0,802.7 820.0,807.5 821.0,812.3 822.0,817.0 823.0,821.4 824.0,825.5 825.0,829.2 826.0,832.5 827.0,835.4 828.0,838.1 829.0,840.7 830.0,843.0 831.0,845.2 832.0,847.2 833.0,849.1 834.0,851.0 835.0,852.7 836.0,854.4 837.0,855.9 838.0,857.3 839.0,858.5 840.0,859.5 841.0,860.5 842.0,861.4 843.0,862.3 844.0,863.0 845.0,863.7 846.0,864.4 847.0,865.0 848.0,865.5 849.0,866.0 850.0,866.5 851.0,866.9 852.0,867.4 853.0,867.8 854.0,868.2 855.0,868.5 856.0,868.7 857.0,868.7 858.0,868.7 859.0,868.6 860.0,868.6 861.0,868.7 862.0,868.8 863.0,868.9 864.0,869.0 865.0,869.1 866.0,869.2 867.0,869.4 868.0,869.7 869.0,870.2 870.0,870.6 871.0,871.0 872.0,871.1 873.0,871.2 874.0,871.1 875.0,871.0 876.0,870.9 877.0,870.8 878.0,870.8 879.0,870.9 880.0,871.0 881.0,871.2 882.0,871.4 883.0,871.6 884.0,871.6 885.0,871.7 886.0,871.7 887.0,871.7 888.0,871.7 889.0,871.7 890.0,871.7 891.0,871.7 892.0,871.7 893.0,871.7 894.0,871.7 895.0,871.7 896.0,871.7 897.0,871.8 898.0,871.9 899.0,872.0 900.0,872.1 901.0,872.2 902.0,872.2 903.0,872.2 904.0,872.2 905.0,872.1 906.0,872.1 907.0,872.0 908.0,872.0 909.0,872.0 910.0,871.9 911.0,871.9 912.0,871.9 913.0,871.9 914.0,871.9 915.0,871.8 916.0,871.6 917.0,871.4 918.0,871.1 919.0,871.0 920.0,870.9 921.0,871.0 922.0,871.4 923.0,871.8 924.0,872.2 925.0,872.6 926.0,872.7 927.0,872.6 928.0,872.4 929.0,872.1 930.0,871.8 931.0,871.6 932.0,871.5 933.0,871.6 934.0,871.7 935.0,871.8 936.0,872.0 937.0,872.1 938.0,872.1 939.0,872.1 940.0,872.0 941.0,871.8 942.0,871.7 943.0,871.6 944.0,871.5 945.0,871.6 946.0,871.7 947.0,871.9 948.0,872.0 949.0,872.1 950.0,872.2 951.0,872.1 952.0,871.9 953.0,871.7 954.0,871.5 955.0,871.4 956.0,871.3 957.0,871.3 958.0,871.3 959.0,871.3 960.0,871.3 961.0,871.3 962.0,871.3 963.0,871.3 964.0,871.3 965.0,871.3 966.0,871.3 967.0,871.3 968.0,871.3 969.0,871.2 970.0,871.1 971.0,870.9 972.0,870.8 973.0,870.7 974.0,870.6 975.0,870.6 976.0,870.6 977.0,870.6 978.0,870.7 979.0,870.7 980.0,870.7 981.0,870.7 982.0,870.8 983.0,870.8 984.0,870.9 985.0,870.9 986.0,871.0 987.0,871.0 988.0,871.0 989.0,871.0 990.0,871.0 991.0,871.0 992.0,871.0 993.0,870.9 994.0,870.8 995.0,870.6 996.0,870.5 997.0,870.4 998.0,870.3 999.0,870.5 1000.0,870.9 1001.0,871.5 1002.0,872.0 1003.0,872.5 1004.0,872.6 1005.0,872.5 1006.0,872.0 1007.0,871.4 1008.0,870.9 1009.0,870.4 1010.0,870.3 1011.0,870.3 1012.0,870.3 1013.0,870.4 1014.0,870.5 1015.0,870.6 1016.0,870.7 1017.0,870.9 1018.0,871.3 1019.0,871.8 1020.0,872.2 1021.0,872.5 1022.0,872.6 1023.0,872.4 1024.0,872.0 1025.0,871.5 1026.0,871.0 1027.0,870.6 1028.0,870.4 1029.0,870.5 1030.0,870.7 1031.0,870.9 1032.0,871.1 1033.0,871.3 1034.0,871.4 1035.0,871.4 1036.0,871.3 1037.0,871.3 1038.0,871.3 1039.0,871.3 1040.0,871.3 1041.0,871.2 1042.0,871.1 1043.0,871.0 1044.0,870.9 1045.0,870.8 1046.0,870.6 1047.0,870.5 1048.0,870.3 1049.0,870.1 1050.0,869.9 1051.0,869.8 1052.0,869.7 1053.0,869.7 1054.0,869.7 1055.0,869.7 1056.0,869.6 1057.0,869.6 1058.0,869.6 1059.0,869.7 1060.0,869.9 1061.0,870.1 1062.0,870.3 1063.0,870.5 1064.0,870.7 1065.0,870.7 1066.0,870.8 1067.0,870.9 1068.0,870.9 1069.0,870.9 1070.0,870.9 1071.0,870.8 1072.0,870.5 1073.0,870.0 1074.0,869.6 1075.0,869.3 1076.0,869.1 1077.0,869.2 1078.0,869.5 1079.0,869.9 1080.0,870.3 1081.0,870.6 1082.0,870.7 1083.0,870.6 1084.0,870.5 1085.0,870.4 1086.0,870.2 1087.0,870.1 1088.0,870.1 1089.0,870.2 1090.0,870.4 1091.0,870.6 1092.0,870.9 1093.0,871.1 1094.0,871.1 1095.0,871.1 1096.0,871.0 1097.0,870.9 1098.0,870.8 1099.0,870.7 1100.0,870.6 1101.0,870.4 1102.0,870.3 1103.0,870.1 1104.0,870.0 1105.0,869.9 1106.0,869.8 1107.0,869.8 1108.0,869.8 1109.0,869.9 1110.0,869.9 1111.0,870.0 1112.0,870.0 1113.0,870.0 1114.0,870.1 1115.0,870.1 1116.0,870.1 1117.0,870.2 1118.0,870.2 1119.0,870.3 1120.0,870.4 1121.0,870.5 1122.0,870.6 1123.0,870.7 1124.0,870.8 1125.0,871.0 1126.0,871.2 1127.0,871.3 1128.0,871.5 1129.0,871.5 1130.0,871.4 1131.0,871.1 1132.0,870.6 1133.0,870.0 1134.0,869.4 1135.0,868.8 1136.0,868.2 1137.0,867.6 1138.0,866.7 1139.0,865.7 1140.0,864.5 1141.0,863.2 1142.0,861.7 1143.0,860.1 1144.0,857.7 1145.0,854.5 1146.0,850.6 1147.0,846.0 1148.0,840.9 1149.0,835.0 1150.0,827.0 1151.0,817.2 1152.0,805.9 1153.0,793.7 1154.0,780.1 1155.0,763.9 1156.0,745.9 1157.0,727.5 1158.0,708.9 1159.0,689.5 1160.0,669.5 1161.0,649.3 1162.0,629.2 1163.0,609.7 1164.0,590.5 1165.0,570.9 1166.0,550.4 1167.0,528.1 1168.0,501.5 1169.0,477.0 1170.0,459.1 1171.0,443.3 1172.0,428.8 1173.0,415.4 1174.0,403.8 1175.0,394.4 1176.0,387.9 1177.0,382.6 1178.0,380.1 1179.0,379.3 1180.0,380.9 1181.0,384.5 1182.0,390.4 1183.0,400.8 1184.0,415.0 1185.0,428.8 1186.0,444.8 1187.0,459.7 1188.0,474.0 1189.0,489.9 1190.0,507.0 1191.0,524.3 1192.0,541.2 1193.0,558.1 1194.0,575.0 1195.0,591.7 1196.0,608.3 1197.0,624.4 1198.0,640.3 1199.0,656.2 1200.0,671.9 1201.0,687.3 1202.0,702.1 1203.0,716.3 1204.0,729.6 1205.0,742.7 1206.0,755.5 1207.0,767.5 1208.0,778.5 1209.0,788.2 1210.0,796.5 1211.0,804.5 1212.0,811.9 1213.0,818.7 1214.0,825.0 1215.0,830.6 1216.0,835.5 1217.0,839.7 1218.0,843.6 1219.0,847.2 1220.0,850.5 1221.0,853.3 1222.0,855.6 1223.0,857.4 1224.0,858.8 1225.0,859.9 1226.0,860.9 1227.0,861.7 1228.0,862.4 1229.0,863.2 1230.0,863.9 1231.0,864.6 1232.0,865.3 1233.0,865.9 1234.0,866.6 1235.0,866.8 1236.0,866.5 1237.0,866.1 1238.0,865.7 1239.0,865.3 1240.0,864.8 1241.0,864.2 1242.0,863.8 1243.0,863.3 1244.0,862.9 1245.0,862.5 1246.0,862.1 1247.0,861.7 1248.0,861.4 1249.0,861.0 1250.0,860.7 1251.0,860.4 1252.0,860.2 1253.0,859.9 1254.0,859.6 1255.0,859.4 1256.0,859.1 1257.0,858.9 1258.0,858.6 1259.0,858.5 1260.0,858.3 1261.0,858.2 1262.0,858.1 1263.0,858.0 1264.0,857.9 1265.0,857.7 1266.0,857.5 1267.0,857.3 1268.0,857.2 1269.0,857.1 1270.0,857.1 1271.0,857.0 1272.0,856.9 1273.0,856.9 1274.0,856.9 1275.0,856.9 1276.0,856.9 1277.0,857.0 1278.0,857.1 1279.0,857.2 1280.0,857.2 1281.0,857.2 1282.0,857.2 1283.0,857.1 1284.0,857.0 1285.0,857.0 1286.0,857.1 1287.0,857.3 1288.0,857.5 1289.0,857.8 1290.0,858.2 1291.0,858.6 1292.0,859.1 1293.0,859.6 1294.0,860.1 1295.0,860.6 1296.0,861.1 1297.0,861.6 1298.0,862.0 1299.0,862.4 1300.0,862.7 1301.0,863.1 1302.0,863.4 1303.0,863.7 1304.0,864.1 1305.0,864.4 1306.0,864.6 1307.0,864.8 1308.0,865.0 1309.0,865.2 1310.0,865.4 1311.0,865.7 1312.0,866.1 1313.0,866.6 1314.0,867.1 1315.0,867.5 1316.0,867.8 1317.0,867.9 1318.0,868.0 1319.0,868.0 1320.0,868.1 1321.0,868.1 1322.0,868.2 1323.0,868.4 1324.0,868.8 1325.0,869.1 1326.0,869.5 1327.0,869.8 1328.0,870.0 1329.0,870.0 1330.0,869.8 1331.0,869.6 1332.0,869.3" stroke="#33cc33" stroke-width="3.6"/>
</g>
<text transform="translate(96.8 270.5) scale(1 1.002)" font-size="29.5" text-anchor="end">300</text>
<text transform="translate(96.8 372.8) scale(1 1.002)" font-size="29.5" text-anchor="end">250</text>
<text transform="translate(96.8 474.59999999999997) scale(1 1.002)" font-size="29.5" text-anchor="end">200</text>
<text transform="translate(96.8 577.4000000000001) scale(1 1.002)" font-size="29.5" text-anchor="end">150</text>
<text transform="translate(96.8 679.9000000000001) scale(1 1.002)" font-size="29.5" text-anchor="end">100</text>
<text transform="translate(96.8 783.2) scale(1 1.002)" font-size="29.5" text-anchor="end">50</text>
<text transform="translate(96.8 887.4000000000001) scale(1 1.002)" font-size="29.5" text-anchor="end">0</text>
<text transform="translate(111.0 912.0) scale(1 1.002)" font-size="29.5" text-anchor="middle">5</text>
<text transform="translate(254.5 912.0) scale(1 1.002)" font-size="29.5" text-anchor="middle">7</text>
<text transform="translate(398.0 912.0) scale(1 1.002)" font-size="29.5" text-anchor="middle">9</text>
<text transform="translate(541.5 912.0) scale(1 1.002)" font-size="29.5" text-anchor="middle">11</text>
<text transform="translate(685.0 912.0) scale(1 1.002)" font-size="29.5" text-anchor="middle">13</text>
<text transform="translate(828.5 912.0) scale(1 1.002)" font-size="29.5" text-anchor="middle">15</text>
<text transform="translate(972.0 912.0) scale(1 1.002)" font-size="29.5" text-anchor="middle">17</text>
<text transform="translate(1115.5 912.0) scale(1 1.002)" font-size="29.5" text-anchor="middle">19</text>
<text transform="translate(1259.0 912.0) scale(1 1.002)" font-size="29.5" text-anchor="middle">21</text>
<text transform="translate(720.6 953.3) scale(1 1.04)" font-size="28.8" text-anchor="middle">Volume (ml)</text>
<text transform="translate(23.8 572) rotate(-90) scale(1 1.03)" font-size="29.1" text-anchor="middle">Absorbance (mAu)</text>
<line x1="156.5" y1="288.3" x2="217.9" y2="288.3" stroke="#000" stroke-width="3.6" stroke-linecap="round" stroke-dasharray="7.4 7.3"/>
<text transform="translate(232.7 297.3) scale(1 0.968)" font-size="25.2" text-anchor="start">24/580</text>
<line x1="156.5" y1="331.3" x2="217.9" y2="331.3" stroke="#000" stroke-width="3.6" stroke-linecap="round"/>
<text transform="translate(232.7 340.3) scale(1 0.968)" font-size="25.2" text-anchor="start">24/580+ATP</text>
<line x1="156.5" y1="374.3" x2="217.9" y2="374.3" stroke="#ff00ff" stroke-width="3.6" stroke-linecap="round" stroke-dasharray="7.4 7.3"/>
<text transform="translate(232.7 383.3) scale(1 0.968)" font-size="25.2" text-anchor="start">110/580</text>
<line x1="156.5" y1="417.2" x2="217.9" y2="417.2" stroke="#ff00ff" stroke-width="3.6" stroke-linecap="round"/>
<text transform="translate(232.7 426.2) scale(1 0.968)" font-size="25.2" text-anchor="start">110/580+ATP</text>
<line x1="156.5" y1="460.2" x2="217.9" y2="460.2" stroke="#33cc33" stroke-width="3.6" stroke-linecap="round" stroke-dasharray="7.4 7.3"/>
<text transform="translate(232.7 469.2) scale(1 0.968)" font-size="25.2" text-anchor="start">24/406</text>
<line x1="156.5" y1="503.2" x2="217.9" y2="503.2" stroke="#33cc33" stroke-width="3.6" stroke-linecap="round"/>
<text transform="translate(232.7 512.2) scale(1 0.968)" font-size="25.2" text-anchor="start">24/406+ATP</text>
<text transform="translate(625.6 606.0) scale(1 1.002)" font-size="29.5" text-anchor="middle">131</text>
<text transform="translate(715.1 497.5) scale(1 1.002)" font-size="29.5" text-anchor="middle">63</text>
<text transform="translate(760.3 515.0) scale(1 1.002)" font-size="29.5" text-anchor="middle">48</text>
<text transform="translate(808.9 525.8) scale(1 1.002)" font-size="29.5" text-anchor="middle">41</text>
<text transform="translate(1179.4 360.9) scale(1 1.04)" font-size="28.8" text-anchor="middle">ATP</text>
</g>
<g id="panel-c">
<text transform="translate(-1.5 1036.9) scale(1 1.04)" font-size="42.9" text-anchor="start" font-weight="bold">c</text>
<text transform="translate(244.7 1119.2) rotate(-90) scale(1 0.968)" font-size="25.2" text-anchor="start">24/580</text>
<text transform="translate(327.0 1119.5) rotate(-90) scale(1 0.968)" font-size="25.2" text-anchor="start">110/580</text>
<text transform="translate(411.6 1118.9) rotate(-90) scale(1 0.968)" font-size="25.2" text-anchor="start">24/406</text>
<line x1="195.1" y1="1132.8" x2="278.9" y2="1132.8" stroke="#000" stroke-width="3.6"/>
<line x1="284.9" y1="1132.8" x2="353.4" y2="1132.8" stroke="#000" stroke-width="3.6"/>
<line x1="370.7" y1="1132.8" x2="437.1" y2="1132.8" stroke="#000" stroke-width="3.6"/>
<text transform="translate(41.8 1162.0) scale(1 1.04)" font-size="28.8" text-anchor="start">MgATP</text>
<text transform="translate(41.2 1211.0) scale(1 1.04)" font-size="28.8" text-anchor="start">(kDa)</text>
<text transform="translate(207.9 1164.7) scale(1 1.0)" font-size="33" text-anchor="middle">−</text>
<text transform="translate(255.2 1164.3) scale(1 1.0)" font-size="30" text-anchor="middle">+</text>
<text transform="translate(296.6 1164.7) scale(1 1.0)" font-size="33" text-anchor="middle">−</text>
<text transform="translate(337.4 1164.3) scale(1 1.0)" font-size="30" text-anchor="middle">+</text>
<text transform="translate(381.5 1164.7) scale(1 1.0)" font-size="33" text-anchor="middle">−</text>
<text transform="translate(425.5 1164.3) scale(1 1.0)" font-size="30" text-anchor="middle">+</text>
<text transform="translate(111.1 1317.7) scale(1 1.002)" font-size="29.5" text-anchor="end">191</text>
<text transform="translate(111.1 1375.5) scale(1 1.002)" font-size="29.5" text-anchor="end">97</text>
<text transform="translate(111.1 1449.8) scale(1 1.002)" font-size="29.5" text-anchor="end">64</text>
<text transform="translate(111.1 1509.0) scale(1 1.002)" font-size="29.5" text-anchor="end">51</text>
<text transform="translate(111.1 1565.4) scale(1 1.002)" font-size="29.5" text-anchor="end">39</text>
<text transform="translate(111.1 1636.0) scale(1 1.002)" font-size="29.5" text-anchor="end">28</text>
<text transform="translate(111.1 1706.6000000000001) scale(1 1.002)" font-size="29.5" text-anchor="end">19</text>
<defs>
<clipPath id="gelclip"><rect x="122.2" y="1174.4" width="326.8" height="568.5999999999999"/></clipPath>
<linearGradient id="gelbg" x1="0" y1="0" x2="0" y2="1"><stop offset="0" stop-color="#dedede"/><stop offset="0.5" stop-color="#dcdcdc"/><stop offset="1" stop-color="#d8d8d8"/></linearGradient>
<filter id="bl_1_5_1_5" x="-50%" y="-100%" width="200%" height="300%"><feGaussianBlur stdDeviation="1.5 1.5"/></filter>
<filter id="bl_1_8_3_5" x="-50%" y="-100%" width="200%" height="300%"><feGaussianBlur stdDeviation="1.8 3.5"/></filter>
<filter id="bl_2_1_5" x="-50%" y="-100%" width="200%" height="300%"><feGaussianBlur stdDeviation="2 1.5"/></filter>
<filter id="bl_2_1_9" x="-50%" y="-100%" width="200%" height="300%"><feGaussianBlur stdDeviation="2 1.9"/></filter>
<filter id="bl_2_2_5" x="-50%" y="-100%" width="200%" height="300%"><feGaussianBlur stdDeviation="2 2.5"/></filter>
<filter id="bl_2_3" x="-50%" y="-100%" width="200%" height="300%"><feGaussianBlur stdDeviation="2 3"/></filter>
<filter id="bl_2_3_3" x="-50%" y="-100%" width="200%" height="300%"><feGaussianBlur stdDeviation="2 3.3"/></filter>
<filter id="bl_2_3_8" x="-50%" y="-100%" width="200%" height="300%"><feGaussianBlur stdDeviation="2 3.8"/></filter>
<filter id="bl_2_2_2" x="-50%" y="-100%" width="200%" height="300%"><feGaussianBlur stdDeviation="2.2 2"/></filter>
<filter id="bl_2_2_3" x="-50%" y="-100%" width="200%" height="300%"><feGaussianBlur stdDeviation="2.2 3"/></filter>
<filter id="bl_2_2_3_5" x="-50%" y="-100%" width="200%" height="300%"><feGaussianBlur stdDeviation="2.2 3.5"/></filter>
<filter id="bl_2_4_2_8" x="-50%" y="-100%" width="200%" height="300%"><feGaussianBlur stdDeviation="2.4 2.8"/></filter>
<filter id="bl_2_5_1_2" x="-50%" y="-100%" width="200%" height="300%"><feGaussianBlur stdDeviation="2.5 1.2"/></filter>
<filter id="bl_2_5_2_5" x="-50%" y="-100%" width="200%" height="300%"><feGaussianBlur stdDeviation="2.5 2.5"/></filter>
<filter id="bl_2_5_3_2" x="-50%" y="-100%" width="200%" height="300%"><feGaussianBlur stdDeviation="2.5 3.2"/></filter>
<filter id="bl_2_5_3_4" x="-50%" y="-100%" width="200%" height="300%"><feGaussianBlur stdDeviation="2.5 3.4"/></filter>
<filter id="bl_2_5_4" x="-50%" y="-100%" width="200%" height="300%"><feGaussianBlur stdDeviation="2.5 4"/></filter>
<filter id="bl_2_5_4_5" x="-50%" y="-100%" width="200%" height="300%"><feGaussianBlur stdDeviation="2.5 4.5"/></filter>
<filter id="bl_2_5_5" x="-50%" y="-100%" width="200%" height="300%"><feGaussianBlur stdDeviation="2.5 5"/></filter>
<filter id="bl_3_1_4" x="-50%" y="-100%" width="200%" height="300%"><feGaussianBlur stdDeviation="3 1.4"/></filter>
<filter id="bl_3_3" x="-50%" y="-100%" width="200%" height="300%"><feGaussianBlur stdDeviation="3 3"/></filter>
<filter id="bl_3_4" x="-50%" y="-100%" width="200%" height="300%"><feGaussianBlur stdDeviation="3 4"/></filter>
<filter id="bl_3_5" x="-50%" y="-100%" width="200%" height="300%"><feGaussianBlur stdDeviation="3 5"/></filter>
<filter id="bl_3_6" x="-50%" y="-100%" width="200%" height="300%"><feGaussianBlur stdDeviation="3 6"/></filter>
<filter id="bl_3_8" x="-50%" y="-100%" width="200%" height="300%"><feGaussianBlur stdDeviation="3 8"/></filter>
<filter id="bl_3_5_3_5" x="-50%" y="-100%" width="200%" height="300%"><feGaussianBlur stdDeviation="3.5 3.5"/></filter>
<filter id="bl_8_8" x="-50%" y="-100%" width="200%" height="300%"><feGaussianBlur stdDeviation="8 8"/></filter>
<filter id="grain" x="0" y="0" width="100%" height="100%"><feTurbulence type="fractalNoise" baseFrequency="0.16" numOctaves="2" seed="11" result="n"/><feColorMatrix in="n" type="matrix" values="0 0 0 0 0  0 0 0 0 0  0 0 0 0 0  0.07 0 0 0 -0.02"/></filter>
</defs>
<g clip-path="url(#gelclip)">
<rect x="122.2" y="1174.4" width="326.8" height="568.5999999999999" fill="url(#gelbg)"/>
<rect x="122.2" y="1174.4" width="326.8" height="568.5999999999999" fill="#000" filter="url(#grain)"/>
<rect x="122.2" y="1174.4" width="30" height="568.5999999999999" fill="#fff" fill-opacity="0.04" filter="url(#bl_8_8)"/>
<path d="M155,1172.4 L158.5,1196.9 Q169.25,1203.9 182.0,1196.9 L178.5,1172.4Z" fill="#000" fill-opacity="0.14" filter="url(#bl_1_5_1_5)"/>
<path d="M153.5,1172.4 L157.5,1193.9 Q169.25,1199.4 181.0,1193.9 L177.0,1172.4Z" fill="#e6e6e6" filter="url(#bl_1_5_1_5)"/>
<path d="M197,1172.4 L200.5,1196.9 Q210.75,1203.9 223.0,1196.9 L219.5,1172.4Z" fill="#000" fill-opacity="0.14" filter="url(#bl_1_5_1_5)"/>
<path d="M195.5,1172.4 L199.5,1193.9 Q210.75,1199.4 222.0,1193.9 L218.0,1172.4Z" fill="#e6e6e6" filter="url(#bl_1_5_1_5)"/>
<path d="M239,1172.4 L242.5,1196.9 Q252.75,1203.9 265.0,1196.9 L261.5,1172.4Z" fill="#000" fill-opacity="0.14" filter="url(#bl_1_5_1_5)"/>
<path d="M237.5,1172.4 L241.5,1193.9 Q252.75,1199.4 264.0,1193.9 L260.0,1172.4Z" fill="#e6e6e6" filter="url(#bl_1_5_1_5)"/>
<path d="M281,1172.4 L284.5,1196.9 Q294.75,1203.9 307.0,1196.9 L303.5,1172.4Z" fill="#000" fill-opacity="0.14" filter="url(#bl_1_5_1_5)"/>
<path d="M279.5,1172.4 L283.5,1193.9 Q294.75,1199.4 306.0,1193.9 L302.0,1172.4Z" fill="#e6e6e6" filter="url(#bl_1_5_1_5)"/>
<path d="M322,1172.4 L325.5,1196.9 Q336.25,1203.9 349.0,1196.9 L345.5,1172.4Z" fill="#000" fill-opacity="0.14" filter="url(#bl_1_5_1_5)"/>
<path d="M320.5,1172.4 L324.5,1193.9 Q336.25,1199.4 348.0,1193.9 L344.0,1172.4Z" fill="#e6e6e6" filter="url(#bl_1_5_1_5)"/>
<path d="M362.7,1172.4 L366.2,1196.9 Q376.95,1203.9 389.7,1196.9 L386.2,1172.4Z" fill="#000" fill-opacity="0.14" filter="url(#bl_1_5_1_5)"/>
<path d="M361.2,1172.4 L365.2,1193.9 Q376.95,1199.4 388.7,1193.9 L384.7,1172.4Z" fill="#e6e6e6" filter="url(#bl_1_5_1_5)"/>
<path d="M404.8,1172.4 L408.3,1196.9 Q419.05,1203.9 431.8,1196.9 L428.3,1172.4Z" fill="#000" fill-opacity="0.14" filter="url(#bl_1_5_1_5)"/>
<path d="M403.3,1172.4 L407.3,1193.9 Q419.05,1199.4 430.8,1193.9 L426.8,1172.4Z" fill="#e6e6e6" filter="url(#bl_1_5_1_5)"/>
<rect x="191.0" y="1235.0" width="35.0" height="95.0" rx="2" fill="#000" fill-opacity="0.035" filter="url(#bl_3_8)"/>
<rect x="237.0" y="1225.0" width="33.0" height="100.0" rx="2" fill="#000" fill-opacity="0.04" filter="url(#bl_3_8)"/>
<rect x="280.3" y="1255.0" width="31.5" height="105.0" rx="2" fill="#000" fill-opacity="0.03" filter="url(#bl_3_8)"/>
<rect x="322.4" y="1255.0" width="30.1" height="105.0" rx="2" fill="#000" fill-opacity="0.03" filter="url(#bl_3_8)"/>
<rect x="364.4" y="1250.0" width="31.6" height="140.0" rx="2" fill="#000" fill-opacity="0.02" filter="url(#bl_3_8)"/>
<rect x="407.8" y="1250.0" width="32.8" height="140.0" rx="2" fill="#000" fill-opacity="0.02" filter="url(#bl_3_8)"/>
<rect x="191.0" y="1260.0" width="36.0" height="14.0" rx="2" fill="#000" fill-opacity="0.04" filter="url(#bl_3_4)"/>
<rect x="191.0" y="1282.0" width="36.0" height="15.0" rx="2" fill="#000" fill-opacity="0.055" filter="url(#bl_3_4)"/>
<rect x="190.0" y="1328.0" width="38.0" height="23.0" rx="2" fill="#000" fill-opacity="0.21" filter="url(#bl_2_5_4_5)"/>
<rect x="237.0" y="1237.0" width="33.0" height="12.0" rx="2" fill="#000" fill-opacity="0.035" filter="url(#bl_3_4)"/>
<rect x="237.0" y="1260.0" width="34.0" height="14.0" rx="2" fill="#000" fill-opacity="0.115" filter="url(#bl_2_5_4)"/>
<rect x="237.0" y="1282.0" width="34.0" height="14.0" rx="2" fill="#000" fill-opacity="0.115" filter="url(#bl_2_5_4)"/>
<rect x="236.0" y="1325.5" width="36.0" height="23.5" rx="2" fill="#000" fill-opacity="0.72" filter="url(#bl_2_2_3_5)"/>
<rect x="238.0" y="1329.0" width="32.0" height="16.5" rx="2" fill="#000" fill-opacity="0.5" filter="url(#bl_2_2_3)"/>
<ellipse cx="254" cy="1337.5" rx="8" ry="6" fill="#fff" fill-opacity="0.13" filter="url(#bl_3_3)"/>
<rect x="279.0" y="1303.0" width="34.0" height="19.0" rx="2" fill="#000" fill-opacity="0.035" filter="url(#bl_3_4)"/>
<rect x="279.0" y="1356.0" width="34.0" height="21.0" rx="2" fill="#000" fill-opacity="0.26" filter="url(#bl_2_5_4)"/>
<rect x="321.0" y="1303.0" width="33.0" height="19.0" rx="2" fill="#000" fill-opacity="0.035" filter="url(#bl_3_4)"/>
<rect x="321.0" y="1356.0" width="33.0" height="21.0" rx="2" fill="#000" fill-opacity="0.26" filter="url(#bl_2_5_4)"/>
<rect x="363.0" y="1326.0" width="34.0" height="16.0" rx="2" fill="#000" fill-opacity="0.02" filter="url(#bl_3_4)"/>
<rect x="363.0" y="1388.0" width="34.0" height="25.0" rx="2" fill="#000" fill-opacity="0.13" filter="url(#bl_3_5)"/>
<rect x="407.0" y="1326.0" width="35.0" height="16.0" rx="2" fill="#000" fill-opacity="0.02" filter="url(#bl_3_4)"/>
<rect x="407.0" y="1388.0" width="35.0" height="25.0" rx="2" fill="#000" fill-opacity="0.13" filter="url(#bl_3_5)"/>
<rect x="160.0" y="1349.5" width="26.0" height="10.5" rx="2" fill="#000" fill-opacity="0.4" filter="url(#bl_2_4_2_8)"/>
<rect x="162.0" y="1290.2" width="25.0" height="2.2" rx="2" fill="#000" fill-opacity="0.1" filter="url(#bl_2_5_1_2)"/>
<rect x="161.0" y="1362.0" width="23.0" height="58.0" rx="2" fill="#000" fill-opacity="0.07" filter="url(#bl_3_6)"/>
<rect x="160.0" y="1372.0" width="23.0" height="13.0" rx="2" fill="#000" fill-opacity="0.05" filter="url(#bl_3_3)"/>
<rect x="154.5" y="1428.0" width="27.0" height="7.0" rx="2" fill="#000" fill-opacity="0.13" filter="url(#bl_2_5_2_5)"/>
<rect x="154.0" y="1489.5" width="26.5" height="11.0" rx="2" fill="#000" fill-opacity="0.2" filter="url(#bl_2_5_3_2)"/>
<rect x="151.6" y="1557.5" width="26.4" height="11.0" rx="2" fill="#000" fill-opacity="0.22" filter="url(#bl_2_5_3_2)"/>
<rect x="149.0" y="1621.5" width="26.5" height="11.0" rx="2" fill="#000" fill-opacity="0.19" filter="url(#bl_2_5_3_4)"/>
<rect x="147.0" y="1666.0" width="26.0" height="8.0" rx="2" fill="#000" fill-opacity="0.09" filter="url(#bl_2_5_2_5)"/>
<rect x="145.0" y="1643.0" width="28.0" height="47.0" rx="2" fill="#000" fill-opacity="0.04" filter="url(#bl_3_5)"/>
<rect x="143.0" y="1693.8" width="30.0" height="7.2" rx="2" fill="#000" fill-opacity="0.6" filter="url(#bl_2_1_9)"/>
<rect x="142.0" y="1713.0" width="31.5" height="12.0" rx="2" fill="#000" fill-opacity="0.72" filter="url(#bl_2_2_2)"/>
<rect x="146.0" y="1715.5" width="24.0" height="6.5" rx="2" fill="#000" fill-opacity="0.35" filter="url(#bl_2_1_5)"/>
<rect x="183.8" y="1452.5" width="44.0" height="25.5" rx="2" fill="#000" fill-opacity="0.5" filter="url(#bl_2_3_8)"/>
<rect x="185.0" y="1459.0" width="42.0" height="15.5" rx="2" fill="#000" fill-opacity="0.3" filter="url(#bl_2_3)"/>
<rect x="233.0" y="1452.0" width="38.0" height="19.0" rx="2" fill="#000" fill-opacity="0.42" filter="url(#bl_2_3_3)"/>
<rect x="234.5" y="1455.0" width="35.5" height="11.0" rx="2" fill="#000" fill-opacity="0.12" filter="url(#bl_2_2_5)"/>
<rect x="274.5" y="1485.5" width="38.7" height="29.5" rx="2" fill="#000" fill-opacity="0.42" filter="url(#bl_1_8_3_5)"/>
<rect x="275.0" y="1499.0" width="37.7" height="14.0" rx="2" fill="#000" fill-opacity="0.28" filter="url(#bl_2_3)"/>
<rect x="275.5" y="1510.0" width="36.7" height="16.0" rx="2" fill="#000" fill-opacity="0.12" filter="url(#bl_2_5_4)"/>
<rect x="316.8" y="1485.5" width="39.5" height="29.5" rx="2" fill="#000" fill-opacity="0.42" filter="url(#bl_1_8_3_5)"/>
<rect x="317.3" y="1499.0" width="38.5" height="14.0" rx="2" fill="#000" fill-opacity="0.28" filter="url(#bl_2_3)"/>
<rect x="317.8" y="1510.0" width="37.5" height="16.0" rx="2" fill="#000" fill-opacity="0.12" filter="url(#bl_2_5_4)"/>
<rect x="358.0" y="1532.5" width="43.0" height="24.5" rx="2" fill="#000" fill-opacity="0.45" filter="url(#bl_1_8_3_5)"/>
<rect x="359.0" y="1537.0" width="41.0" height="15.0" rx="2" fill="#000" fill-opacity="0.25" filter="url(#bl_2_3)"/>
<rect x="359.5" y="1550.0" width="40.5" height="23.0" rx="2" fill="#000" fill-opacity="0.2" filter="url(#bl_2_5_5)"/>
<rect x="404.0" y="1532.5" width="43.5" height="22.5" rx="2" fill="#000" fill-opacity="0.5" filter="url(#bl_1_8_3_5)"/>
<rect x="405.0" y="1537.0" width="42.0" height="13.0" rx="2" fill="#000" fill-opacity="0.26" filter="url(#bl_2_3)"/>
<rect x="436.0" y="1537.0" width="12.5" height="18.0" rx="2" fill="#000" fill-opacity="0.17" filter="url(#bl_3_5_3_5)"/>
<rect x="405.0" y="1550.0" width="42.0" height="17.0" rx="2" fill="#000" fill-opacity="0.15" filter="url(#bl_2_5_5)"/>
<rect x="122.2" y="1725.5" width="326.8" height="20" fill="#000" fill-opacity="0.02"/>
<rect x="117.2" y="1722.2" width="336.8" height="3.4" rx="0" fill="#000" fill-opacity="0.24" filter="url(#bl_3_1_4)"/>
</g>
</g>
<g id="panel-d">
<text transform="translate(577.9 1036.3) scale(1 0.96)" font-size="42.9" text-anchor="start" font-weight="bold">d</text>
<line x1="676.1" y1="1043" x2="676.1" y2="1716.1" stroke="#000" stroke-width="6.3"/>
<line x1="673" y1="1604.3" x2="1287.6" y2="1604.3" stroke="#000" stroke-width="6"/>
<g stroke="#555" stroke-width="2.2" fill="none">
<path d="M686.8,1538.7H704.8M695.8,1538.7V1574.9M686.8,1574.9H704.8"/>
<path d="M686.8,1553.1H704.8M695.8,1553.1V1586.1M686.8,1586.1H704.8"/>
<path d="M707.8,1511.0H725.8M716.8,1511.0V1542.6M707.8,1542.6H725.8"/>
<path d="M707.8,1534.5H725.8M716.8,1534.5V1558.3M707.8,1558.3H725.8"/>
<path d="M911.7,1336.8H929.7M920.7,1336.8V1393.9M911.7,1393.9H929.7"/>
<path d="M1156.9,1131.6H1174.9M1165.9,1131.6V1178.1M1156.9,1178.1H1174.9"/>
<path d="M1156.9,1166.1H1174.9M1165.9,1166.1V1270.4M1156.9,1270.4H1174.9"/>
</g>
<path d="M676.2,1604.1 L696.5,1606.8 L716.8,1602.7 L798.3,1600.7 L920.7,1595.9 L1165.6,1589.8" fill="none" stroke="#00a651" stroke-width="6.2" stroke-linejoin="round" stroke-linecap="round"/>
<circle cx="696.5" cy="1606.8" r="11.9" fill="#00a651"/>
<circle cx="716.8" cy="1602.7" r="11.9" fill="#00a651"/>
<circle cx="798.3" cy="1600.7" r="11.9" fill="#00a651"/>
<circle cx="920.7" cy="1595.9" r="11.9" fill="#00a651"/>
<circle cx="1165.6" cy="1589.8" r="11.9" fill="#00a651"/>
<path d="M676.2,1604.1 L695.8,1569.6 L717.2,1546.4 L798.3,1459.8 L920.7,1365.4 L1165.9,1218.1" fill="none" stroke="#ff00ff" stroke-width="6.2" stroke-linejoin="round" stroke-linecap="round"/>
<circle cx="695.8" cy="1569.6" r="10.6" fill="#ff00ff" stroke="#fa3390" stroke-width="2.4"/>
<circle cx="717.2" cy="1546.4" r="10.6" fill="#ff00ff" stroke="#fa3390" stroke-width="2.4"/>
<circle cx="798.3" cy="1459.8" r="10.6" fill="#ff00ff" stroke="#fa3390" stroke-width="2.4"/>
<circle cx="920.7" cy="1365.4" r="10.6" fill="#ff00ff" stroke="#fa3390" stroke-width="2.4"/>
<circle cx="1165.9" cy="1218.1" r="10.6" fill="#ff00ff" stroke="#fa3390" stroke-width="2.4"/>
<path d="M676.2,1604.1 L695.8,1556.8 L716.8,1526.8 L797.8,1432.2 L920.7,1304.4 L1165.9,1154.7" fill="none" stroke="#000" stroke-width="6.2" stroke-linejoin="round" stroke-linecap="round"/>
<circle cx="676.2" cy="1604.1" r="11.9" fill="#000"/>
<circle cx="695.8" cy="1556.8" r="11.9" fill="#000"/>
<circle cx="716.8" cy="1526.8" r="11.9" fill="#000"/>
<circle cx="797.8" cy="1432.2" r="11.9" fill="#000"/>
<circle cx="920.7" cy="1304.4" r="11.9" fill="#000"/>
<circle cx="1165.9" cy="1154.7" r="11.9" fill="#000"/>
<text transform="translate(660.5 1056.1) scale(1 1.002)" font-size="29.5" text-anchor="end">25</text>
<text transform="translate(660.5 1165.4) scale(1 1.002)" font-size="29.5" text-anchor="end">20</text>
<text transform="translate(660.5 1275.3) scale(1 1.002)" font-size="29.5" text-anchor="end">15</text>
<text transform="translate(660.5 1388.0) scale(1 1.002)" font-size="29.5" text-anchor="end">10</text>
<text transform="translate(660.5 1501.3) scale(1 1.002)" font-size="29.5" text-anchor="end">5</text>
<text transform="translate(660.5 1614.6) scale(1 1.002)" font-size="29.5" text-anchor="end">0</text>
<text transform="translate(660.5 1723.5) scale(1 1.002)" font-size="29.5" text-anchor="end">−5</text>
<text transform="translate(677.8 1658.2) scale(1 1.002)" font-size="29.5" text-anchor="middle">0</text>
<text transform="translate(880.0 1667.8) scale(1 1.002)" font-size="29.5" text-anchor="middle">50</text>
<text transform="translate(1086.6 1667.8) scale(1 1.002)" font-size="29.5" text-anchor="middle">100</text>
<text transform="translate(1283.2 1667.8) scale(1 1.002)" font-size="29.5" text-anchor="middle">150</text>
<text transform="translate(976.4 1733.8) scale(1 1.025)" font-size="29.25" text-anchor="middle">Time (min)</text>
<text transform="translate(604.0 1379.4) rotate(-90) scale(1 1.04)" font-size="28.8" text-anchor="middle">Pi (μM)</text>
<line x1="1020.7" y1="1380.7" x2="1100.7" y2="1380.7" stroke="#00a651" stroke-width="6.2" stroke-linecap="round"/>
<circle cx="1060.8" cy="1380.7" r="11.9" fill="#00a651"/>
<text transform="translate(1115.3 1389.0) scale(1 0.968)" font-size="25.2" text-anchor="start">24/406</text>
<line x1="1020.7" y1="1439.3" x2="1100.7" y2="1439.3" stroke="#ff00ff" stroke-width="6.2" stroke-linecap="round"/>
<circle cx="1060.8" cy="1439.3" r="10.6" fill="#ff00ff" stroke="#fa3390" stroke-width="2.4"/>
<text transform="translate(1115.3 1447.6) scale(1 0.968)" font-size="25.2" text-anchor="start">110/580</text>
<line x1="1020.7" y1="1497.9" x2="1100.7" y2="1497.9" stroke="#000" stroke-width="6.2" stroke-linecap="round"/>
<circle cx="1060.8" cy="1497.9" r="11.9" fill="#000"/>
<text transform="translate(1115.3 1506.2) scale(1 0.968)" font-size="25.2" text-anchor="start">24/580</text>
</g>
</svg>
</body></html>
